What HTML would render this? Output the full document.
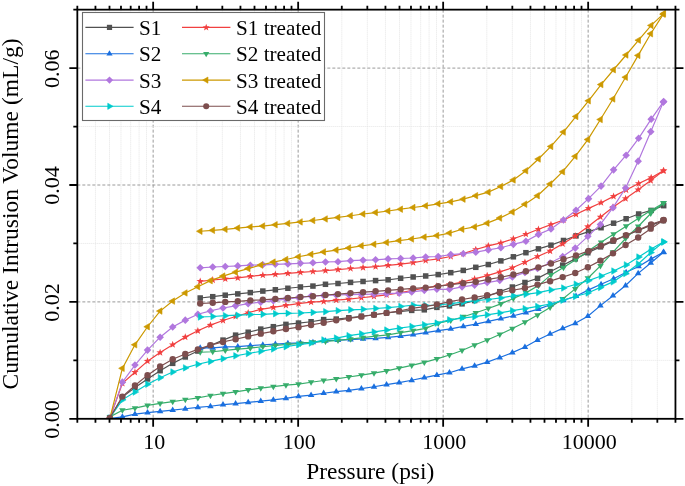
<!DOCTYPE html>
<html><head><meta charset="utf-8"><style>
html,body{margin:0;padding:0;background:#fff;}
body{width:685px;height:486px;position:relative;overflow:hidden;font-family:"Liberation Serif",serif;}
svg{will-change:transform;filter:blur(0.35px);}
</style></head><body>
<svg width="685" height="486" viewBox="0 0 685 486" style="position:absolute;left:0;top:0">
<line x1="95.45" y1="9.65" x2="95.45" y2="418.80" stroke="#e4e4e4" stroke-width="1" stroke-dasharray="1 1"/>
<line x1="109.50" y1="9.65" x2="109.50" y2="418.80" stroke="#e4e4e4" stroke-width="1" stroke-dasharray="1 1"/>
<line x1="120.98" y1="9.65" x2="120.98" y2="418.80" stroke="#e4e4e4" stroke-width="1" stroke-dasharray="1 1"/>
<line x1="130.69" y1="9.65" x2="130.69" y2="418.80" stroke="#e4e4e4" stroke-width="1" stroke-dasharray="1 1"/>
<line x1="139.10" y1="9.65" x2="139.10" y2="418.80" stroke="#e4e4e4" stroke-width="1" stroke-dasharray="1 1"/>
<line x1="146.52" y1="9.65" x2="146.52" y2="418.80" stroke="#e4e4e4" stroke-width="1" stroke-dasharray="1 1"/>
<line x1="153.15" y1="9.65" x2="153.15" y2="418.80" stroke="#9a9a9a" stroke-width="1" stroke-dasharray="3 2"/>
<line x1="196.80" y1="9.65" x2="196.80" y2="418.80" stroke="#e4e4e4" stroke-width="1" stroke-dasharray="1 1"/>
<line x1="222.33" y1="9.65" x2="222.33" y2="418.80" stroke="#e4e4e4" stroke-width="1" stroke-dasharray="1 1"/>
<line x1="240.45" y1="9.65" x2="240.45" y2="418.80" stroke="#e4e4e4" stroke-width="1" stroke-dasharray="1 1"/>
<line x1="254.50" y1="9.65" x2="254.50" y2="418.80" stroke="#e4e4e4" stroke-width="1" stroke-dasharray="1 1"/>
<line x1="265.98" y1="9.65" x2="265.98" y2="418.80" stroke="#e4e4e4" stroke-width="1" stroke-dasharray="1 1"/>
<line x1="275.69" y1="9.65" x2="275.69" y2="418.80" stroke="#e4e4e4" stroke-width="1" stroke-dasharray="1 1"/>
<line x1="284.10" y1="9.65" x2="284.10" y2="418.80" stroke="#e4e4e4" stroke-width="1" stroke-dasharray="1 1"/>
<line x1="291.52" y1="9.65" x2="291.52" y2="418.80" stroke="#e4e4e4" stroke-width="1" stroke-dasharray="1 1"/>
<line x1="298.15" y1="9.65" x2="298.15" y2="418.80" stroke="#9a9a9a" stroke-width="1" stroke-dasharray="3 2"/>
<line x1="341.80" y1="9.65" x2="341.80" y2="418.80" stroke="#e4e4e4" stroke-width="1" stroke-dasharray="1 1"/>
<line x1="367.33" y1="9.65" x2="367.33" y2="418.80" stroke="#e4e4e4" stroke-width="1" stroke-dasharray="1 1"/>
<line x1="385.45" y1="9.65" x2="385.45" y2="418.80" stroke="#e4e4e4" stroke-width="1" stroke-dasharray="1 1"/>
<line x1="399.50" y1="9.65" x2="399.50" y2="418.80" stroke="#e4e4e4" stroke-width="1" stroke-dasharray="1 1"/>
<line x1="410.98" y1="9.65" x2="410.98" y2="418.80" stroke="#e4e4e4" stroke-width="1" stroke-dasharray="1 1"/>
<line x1="420.69" y1="9.65" x2="420.69" y2="418.80" stroke="#e4e4e4" stroke-width="1" stroke-dasharray="1 1"/>
<line x1="429.10" y1="9.65" x2="429.10" y2="418.80" stroke="#e4e4e4" stroke-width="1" stroke-dasharray="1 1"/>
<line x1="436.52" y1="9.65" x2="436.52" y2="418.80" stroke="#e4e4e4" stroke-width="1" stroke-dasharray="1 1"/>
<line x1="443.15" y1="9.65" x2="443.15" y2="418.80" stroke="#9a9a9a" stroke-width="1" stroke-dasharray="3 2"/>
<line x1="486.80" y1="9.65" x2="486.80" y2="418.80" stroke="#e4e4e4" stroke-width="1" stroke-dasharray="1 1"/>
<line x1="512.33" y1="9.65" x2="512.33" y2="418.80" stroke="#e4e4e4" stroke-width="1" stroke-dasharray="1 1"/>
<line x1="530.45" y1="9.65" x2="530.45" y2="418.80" stroke="#e4e4e4" stroke-width="1" stroke-dasharray="1 1"/>
<line x1="544.50" y1="9.65" x2="544.50" y2="418.80" stroke="#e4e4e4" stroke-width="1" stroke-dasharray="1 1"/>
<line x1="555.98" y1="9.65" x2="555.98" y2="418.80" stroke="#e4e4e4" stroke-width="1" stroke-dasharray="1 1"/>
<line x1="565.69" y1="9.65" x2="565.69" y2="418.80" stroke="#e4e4e4" stroke-width="1" stroke-dasharray="1 1"/>
<line x1="574.10" y1="9.65" x2="574.10" y2="418.80" stroke="#e4e4e4" stroke-width="1" stroke-dasharray="1 1"/>
<line x1="581.52" y1="9.65" x2="581.52" y2="418.80" stroke="#e4e4e4" stroke-width="1" stroke-dasharray="1 1"/>
<line x1="588.15" y1="9.65" x2="588.15" y2="418.80" stroke="#9a9a9a" stroke-width="1" stroke-dasharray="3 2"/>
<line x1="631.80" y1="9.65" x2="631.80" y2="418.80" stroke="#e4e4e4" stroke-width="1" stroke-dasharray="1 1"/>
<line x1="657.33" y1="9.65" x2="657.33" y2="418.80" stroke="#e4e4e4" stroke-width="1" stroke-dasharray="1 1"/>
<line x1="77.33" y1="360.35" x2="675.45" y2="360.35" stroke="#e4e4e4" stroke-width="1" stroke-dasharray="1 1"/>
<line x1="77.33" y1="301.90" x2="675.45" y2="301.90" stroke="#9a9a9a" stroke-width="1" stroke-dasharray="3 2"/>
<line x1="77.33" y1="243.45" x2="675.45" y2="243.45" stroke="#e4e4e4" stroke-width="1" stroke-dasharray="1 1"/>
<line x1="77.33" y1="185.00" x2="675.45" y2="185.00" stroke="#9a9a9a" stroke-width="1" stroke-dasharray="3 2"/>
<line x1="77.33" y1="126.55" x2="675.45" y2="126.55" stroke="#e4e4e4" stroke-width="1" stroke-dasharray="1 1"/>
<line x1="77.33" y1="68.10" x2="675.45" y2="68.10" stroke="#9a9a9a" stroke-width="1" stroke-dasharray="3 2"/>
<defs><clipPath id="pc"><rect x="77.33" y="9.65" width="598.12" height="409.15"/></clipPath></defs><g clip-path="url(#pc)">
<path d="M109.80 418.02L122.38 397.11L134.96 387.44L147.54 378.97L160.12 370.70L172.70 363.34L185.28 356.96L197.86 351.04L210.44 345.47L223.02 340.11L235.60 335.14L248.18 332.23L260.76 329.09L273.34 326.69L285.92 324.37L298.50 323.08L311.08 321.73L323.66 319.58L336.24 319.08L348.82 317.76L361.40 316.24L373.98 314.74L386.56 313.02L399.14 311.63L411.72 310.39L424.30 309.82L436.88 307.37L449.46 305.92L462.04 303.83L474.62 300.58L487.20 296.36L499.78 291.68L512.36 287.05L524.94 282.49L537.52 278.33L550.10 271.66L562.68 265.16L575.26 258.86L587.84 252.76L600.42 246.86L613.00 241.17L625.58 235.70L638.16 230.45L650.74 225.42L663.32 220.62" fill="none" stroke="#515151" stroke-width="1.2"/>
<rect x="107.05" y="415.27" width="5.50" height="5.50" fill="#515151"/>
<rect x="119.63" y="394.36" width="5.50" height="5.50" fill="#515151"/>
<rect x="132.21" y="384.69" width="5.50" height="5.50" fill="#515151"/>
<rect x="144.79" y="376.22" width="5.50" height="5.50" fill="#515151"/>
<rect x="157.37" y="367.95" width="5.50" height="5.50" fill="#515151"/>
<rect x="169.95" y="360.59" width="5.50" height="5.50" fill="#515151"/>
<rect x="182.53" y="354.21" width="5.50" height="5.50" fill="#515151"/>
<rect x="195.11" y="348.29" width="5.50" height="5.50" fill="#515151"/>
<rect x="207.69" y="342.72" width="5.50" height="5.50" fill="#515151"/>
<rect x="220.27" y="337.36" width="5.50" height="5.50" fill="#515151"/>
<rect x="232.85" y="332.39" width="5.50" height="5.50" fill="#515151"/>
<rect x="245.43" y="329.48" width="5.50" height="5.50" fill="#515151"/>
<rect x="258.01" y="326.34" width="5.50" height="5.50" fill="#515151"/>
<rect x="270.59" y="323.94" width="5.50" height="5.50" fill="#515151"/>
<rect x="283.17" y="321.62" width="5.50" height="5.50" fill="#515151"/>
<rect x="295.75" y="320.33" width="5.50" height="5.50" fill="#515151"/>
<rect x="308.33" y="318.98" width="5.50" height="5.50" fill="#515151"/>
<rect x="320.91" y="316.83" width="5.50" height="5.50" fill="#515151"/>
<rect x="333.49" y="316.33" width="5.50" height="5.50" fill="#515151"/>
<rect x="346.07" y="315.01" width="5.50" height="5.50" fill="#515151"/>
<rect x="358.65" y="313.49" width="5.50" height="5.50" fill="#515151"/>
<rect x="371.23" y="311.99" width="5.50" height="5.50" fill="#515151"/>
<rect x="383.81" y="310.27" width="5.50" height="5.50" fill="#515151"/>
<rect x="396.39" y="308.88" width="5.50" height="5.50" fill="#515151"/>
<rect x="408.97" y="307.64" width="5.50" height="5.50" fill="#515151"/>
<rect x="421.55" y="307.07" width="5.50" height="5.50" fill="#515151"/>
<rect x="434.13" y="304.62" width="5.50" height="5.50" fill="#515151"/>
<rect x="446.71" y="303.17" width="5.50" height="5.50" fill="#515151"/>
<rect x="459.29" y="301.08" width="5.50" height="5.50" fill="#515151"/>
<rect x="471.87" y="297.83" width="5.50" height="5.50" fill="#515151"/>
<rect x="484.45" y="293.61" width="5.50" height="5.50" fill="#515151"/>
<rect x="497.03" y="288.93" width="5.50" height="5.50" fill="#515151"/>
<rect x="509.61" y="284.30" width="5.50" height="5.50" fill="#515151"/>
<rect x="522.19" y="279.74" width="5.50" height="5.50" fill="#515151"/>
<rect x="534.77" y="275.58" width="5.50" height="5.50" fill="#515151"/>
<rect x="547.35" y="268.91" width="5.50" height="5.50" fill="#515151"/>
<rect x="559.93" y="262.41" width="5.50" height="5.50" fill="#515151"/>
<rect x="572.51" y="256.11" width="5.50" height="5.50" fill="#515151"/>
<rect x="585.09" y="250.01" width="5.50" height="5.50" fill="#515151"/>
<rect x="597.67" y="244.11" width="5.50" height="5.50" fill="#515151"/>
<rect x="610.25" y="238.42" width="5.50" height="5.50" fill="#515151"/>
<rect x="622.83" y="232.95" width="5.50" height="5.50" fill="#515151"/>
<rect x="635.41" y="227.70" width="5.50" height="5.50" fill="#515151"/>
<rect x="647.99" y="222.67" width="5.50" height="5.50" fill="#515151"/>
<rect x="660.57" y="217.87" width="5.50" height="5.50" fill="#515151"/>
<path d="M200.20 298.00L212.73 296.69L225.25 295.19L237.78 293.88L250.31 292.59L262.83 291.07L275.36 289.78L287.89 288.27L300.42 286.98L312.94 286.07L325.47 284.29L338.00 283.50L350.52 282.39L363.05 281.48L375.58 280.59L388.11 279.79L400.63 278.27L413.16 276.99L425.69 275.98L438.21 274.57L450.74 272.66L463.27 270.40L475.79 267.31L488.32 264.54L500.85 260.89L513.38 256.81L525.90 252.70L538.43 248.85L550.96 245.18L563.48 240.48L576.01 235.86L588.54 231.62L601.06 227.71L613.59 223.20L626.12 218.75L638.64 213.99L651.17 210.41L663.70 205.67" fill="none" stroke="#515151" stroke-width="1.2"/>
<rect x="197.45" y="295.25" width="5.50" height="5.50" fill="#515151"/>
<rect x="209.98" y="293.94" width="5.50" height="5.50" fill="#515151"/>
<rect x="222.50" y="292.44" width="5.50" height="5.50" fill="#515151"/>
<rect x="235.03" y="291.13" width="5.50" height="5.50" fill="#515151"/>
<rect x="247.56" y="289.84" width="5.50" height="5.50" fill="#515151"/>
<rect x="260.08" y="288.32" width="5.50" height="5.50" fill="#515151"/>
<rect x="272.61" y="287.03" width="5.50" height="5.50" fill="#515151"/>
<rect x="285.14" y="285.52" width="5.50" height="5.50" fill="#515151"/>
<rect x="297.67" y="284.23" width="5.50" height="5.50" fill="#515151"/>
<rect x="310.19" y="283.32" width="5.50" height="5.50" fill="#515151"/>
<rect x="322.72" y="281.54" width="5.50" height="5.50" fill="#515151"/>
<rect x="335.25" y="280.75" width="5.50" height="5.50" fill="#515151"/>
<rect x="347.77" y="279.64" width="5.50" height="5.50" fill="#515151"/>
<rect x="360.30" y="278.73" width="5.50" height="5.50" fill="#515151"/>
<rect x="372.83" y="277.84" width="5.50" height="5.50" fill="#515151"/>
<rect x="385.36" y="277.04" width="5.50" height="5.50" fill="#515151"/>
<rect x="397.88" y="275.52" width="5.50" height="5.50" fill="#515151"/>
<rect x="410.41" y="274.24" width="5.50" height="5.50" fill="#515151"/>
<rect x="422.94" y="273.23" width="5.50" height="5.50" fill="#515151"/>
<rect x="435.46" y="271.82" width="5.50" height="5.50" fill="#515151"/>
<rect x="447.99" y="269.91" width="5.50" height="5.50" fill="#515151"/>
<rect x="460.52" y="267.65" width="5.50" height="5.50" fill="#515151"/>
<rect x="473.04" y="264.56" width="5.50" height="5.50" fill="#515151"/>
<rect x="485.57" y="261.79" width="5.50" height="5.50" fill="#515151"/>
<rect x="498.10" y="258.14" width="5.50" height="5.50" fill="#515151"/>
<rect x="510.62" y="254.06" width="5.50" height="5.50" fill="#515151"/>
<rect x="523.15" y="249.95" width="5.50" height="5.50" fill="#515151"/>
<rect x="535.68" y="246.10" width="5.50" height="5.50" fill="#515151"/>
<rect x="548.21" y="242.43" width="5.50" height="5.50" fill="#515151"/>
<rect x="560.73" y="237.73" width="5.50" height="5.50" fill="#515151"/>
<rect x="573.26" y="233.11" width="5.50" height="5.50" fill="#515151"/>
<rect x="585.79" y="228.87" width="5.50" height="5.50" fill="#515151"/>
<rect x="598.31" y="224.96" width="5.50" height="5.50" fill="#515151"/>
<rect x="610.84" y="220.45" width="5.50" height="5.50" fill="#515151"/>
<rect x="623.37" y="216.00" width="5.50" height="5.50" fill="#515151"/>
<rect x="635.89" y="211.24" width="5.50" height="5.50" fill="#515151"/>
<rect x="648.42" y="207.66" width="5.50" height="5.50" fill="#515151"/>
<rect x="660.95" y="202.92" width="5.50" height="5.50" fill="#515151"/>
<path d="M109.80 418.35L122.38 383.36L134.96 372.28L147.54 361.14L160.12 352.59L172.70 344.72L185.28 337.14L197.86 330.78L210.44 325.14L223.02 320.49L235.60 316.45L248.18 312.78L260.76 309.40L273.34 307.31L285.92 305.32L298.50 303.61L311.08 302.17L323.66 301.47L336.24 300.17L348.82 299.07L361.40 297.75L373.98 296.45L386.56 294.91L399.14 292.84L411.72 290.48L424.30 288.21L436.88 286.26L449.46 284.58L462.04 282.10L474.62 278.94L487.20 275.66L499.78 271.94L512.36 267.79L524.94 262.30L537.52 256.54L550.10 251.05L562.68 243.89L575.26 236.00L587.84 226.65L600.42 216.98L613.00 207.20L625.58 198.58L638.16 189.70L650.74 180.54L663.32 170.86" fill="none" stroke="#F14040" stroke-width="1.2"/>
<path d="M109.80 414.45L110.74 417.05L113.51 417.14L111.32 418.84L112.09 421.50L109.80 419.95L107.51 421.50L108.28 418.84L106.09 417.14L108.86 417.05Z" fill="#F14040"/>
<path d="M122.38 379.46L123.32 382.07L126.09 382.15L123.90 383.85L124.67 386.51L122.38 384.96L120.09 386.51L120.86 383.85L118.67 382.15L121.44 382.07Z" fill="#F14040"/>
<path d="M134.96 368.38L135.90 370.98L138.67 371.07L136.48 372.77L137.25 375.43L134.96 373.88L132.67 375.43L133.44 372.77L131.25 371.07L134.02 370.98Z" fill="#F14040"/>
<path d="M147.54 357.24L148.48 359.84L151.25 359.93L149.06 361.63L149.83 364.29L147.54 362.74L145.25 364.29L146.02 361.63L143.83 359.93L146.60 359.84Z" fill="#F14040"/>
<path d="M160.12 348.69L161.06 351.30L163.83 351.39L161.64 353.09L162.41 355.75L160.12 354.19L157.83 355.75L158.60 353.09L156.41 351.39L159.18 351.30Z" fill="#F14040"/>
<path d="M172.70 340.82L173.64 343.42L176.41 343.51L174.22 345.21L174.99 347.87L172.70 346.32L170.41 347.87L171.18 345.21L168.99 343.51L171.76 343.42Z" fill="#F14040"/>
<path d="M185.28 333.24L186.22 335.84L188.99 335.93L186.80 337.63L187.57 340.29L185.28 338.74L182.99 340.29L183.76 337.63L181.57 335.93L184.34 335.84Z" fill="#F14040"/>
<path d="M197.86 326.88L198.80 329.49L201.57 329.58L199.38 331.28L200.15 333.94L197.86 332.38L195.57 333.94L196.34 331.28L194.15 329.58L196.92 329.49Z" fill="#F14040"/>
<path d="M210.44 321.24L211.38 323.85L214.15 323.93L211.96 325.63L212.73 328.29L210.44 326.74L208.15 328.29L208.92 325.63L206.73 323.93L209.50 323.85Z" fill="#F14040"/>
<path d="M223.02 316.59L223.96 319.19L226.73 319.28L224.54 320.98L225.31 323.64L223.02 322.09L220.73 323.64L221.50 320.98L219.31 319.28L222.08 319.19Z" fill="#F14040"/>
<path d="M235.60 312.55L236.54 315.16L239.31 315.25L237.12 316.95L237.89 319.61L235.60 318.05L233.31 319.61L234.08 316.95L231.89 315.25L234.66 315.16Z" fill="#F14040"/>
<path d="M248.18 308.88L249.12 311.48L251.89 311.57L249.70 313.27L250.47 315.93L248.18 314.38L245.89 315.93L246.66 313.27L244.47 311.57L247.24 311.48Z" fill="#F14040"/>
<path d="M260.76 305.50L261.70 308.11L264.47 308.20L262.28 309.90L263.05 312.56L260.76 311.00L258.47 312.56L259.24 309.90L257.05 308.20L259.82 308.11Z" fill="#F14040"/>
<path d="M273.34 303.41L274.28 306.02L277.05 306.11L274.86 307.81L275.63 310.47L273.34 308.91L271.05 310.47L271.82 307.81L269.63 306.11L272.40 306.02Z" fill="#F14040"/>
<path d="M285.92 301.42L286.86 304.03L289.63 304.12L287.44 305.82L288.21 308.48L285.92 306.92L283.63 308.48L284.40 305.82L282.21 304.12L284.98 304.03Z" fill="#F14040"/>
<path d="M298.50 299.71L299.44 302.32L302.21 302.41L300.02 304.11L300.79 306.77L298.50 305.21L296.21 306.77L296.98 304.11L294.79 302.41L297.56 302.32Z" fill="#F14040"/>
<path d="M311.08 298.27L312.02 300.88L314.79 300.97L312.60 302.67L313.37 305.33L311.08 303.77L308.79 305.33L309.56 302.67L307.37 300.97L310.14 300.88Z" fill="#F14040"/>
<path d="M323.66 297.57L324.60 300.18L327.37 300.27L325.18 301.97L325.95 304.63L323.66 303.07L321.37 304.63L322.14 301.97L319.95 300.27L322.72 300.18Z" fill="#F14040"/>
<path d="M336.24 296.27L337.18 298.87L339.95 298.96L337.76 300.66L338.53 303.32L336.24 301.77L333.95 303.32L334.72 300.66L332.53 298.96L335.30 298.87Z" fill="#F14040"/>
<path d="M348.82 295.17L349.76 297.77L352.53 297.86L350.34 299.56L351.11 302.22L348.82 300.67L346.53 302.22L347.30 299.56L345.11 297.86L347.88 297.77Z" fill="#F14040"/>
<path d="M361.40 293.85L362.34 296.45L365.11 296.54L362.92 298.24L363.69 300.90L361.40 299.35L359.11 300.90L359.88 298.24L357.69 296.54L360.46 296.45Z" fill="#F14040"/>
<path d="M373.98 292.55L374.92 295.15L377.69 295.24L375.50 296.94L376.27 299.60L373.98 298.05L371.69 299.60L372.46 296.94L370.27 295.24L373.04 295.15Z" fill="#F14040"/>
<path d="M386.56 291.01L387.50 293.61L390.27 293.70L388.08 295.40L388.85 298.06L386.56 296.51L384.27 298.06L385.04 295.40L382.85 293.70L385.62 293.61Z" fill="#F14040"/>
<path d="M399.14 288.94L400.08 291.55L402.85 291.64L400.66 293.34L401.43 296.00L399.14 294.44L396.85 296.00L397.62 293.34L395.43 291.64L398.20 291.55Z" fill="#F14040"/>
<path d="M411.72 286.58L412.66 289.19L415.43 289.28L413.24 290.98L414.01 293.64L411.72 292.08L409.43 293.64L410.20 290.98L408.01 289.28L410.78 289.19Z" fill="#F14040"/>
<path d="M424.30 284.31L425.24 286.92L428.01 287.01L425.82 288.71L426.59 291.37L424.30 289.81L422.01 291.37L422.78 288.71L420.59 287.01L423.36 286.92Z" fill="#F14040"/>
<path d="M436.88 282.36L437.82 284.97L440.59 285.06L438.40 286.76L439.17 289.42L436.88 287.86L434.59 289.42L435.36 286.76L433.17 285.06L435.94 284.97Z" fill="#F14040"/>
<path d="M449.46 280.68L450.40 283.28L453.17 283.37L450.98 285.07L451.75 287.73L449.46 286.18L447.17 287.73L447.94 285.07L445.75 283.37L448.52 283.28Z" fill="#F14040"/>
<path d="M462.04 278.20L462.98 280.81L465.75 280.90L463.56 282.60L464.33 285.26L462.04 283.70L459.75 285.26L460.52 282.60L458.33 280.90L461.10 280.81Z" fill="#F14040"/>
<path d="M474.62 275.04L475.56 277.65L478.33 277.74L476.14 279.44L476.91 282.10L474.62 280.54L472.33 282.10L473.10 279.44L470.91 277.74L473.68 277.65Z" fill="#F14040"/>
<path d="M487.20 271.76L488.14 274.37L490.91 274.46L488.72 276.16L489.49 278.82L487.20 277.26L484.91 278.82L485.68 276.16L483.49 274.46L486.26 274.37Z" fill="#F14040"/>
<path d="M499.78 268.04L500.72 270.65L503.49 270.74L501.30 272.44L502.07 275.10L499.78 273.54L497.49 275.10L498.26 272.44L496.07 270.74L498.84 270.65Z" fill="#F14040"/>
<path d="M512.36 263.89L513.30 266.50L516.07 266.59L513.88 268.28L514.65 270.95L512.36 269.39L510.07 270.95L510.84 268.28L508.65 266.59L511.42 266.50Z" fill="#F14040"/>
<path d="M524.94 258.40L525.88 261.00L528.65 261.09L526.46 262.79L527.23 265.45L524.94 263.90L522.65 265.45L523.42 262.79L521.23 261.09L524.00 261.00Z" fill="#F14040"/>
<path d="M537.52 252.64L538.46 255.24L541.23 255.33L539.04 257.03L539.81 259.69L537.52 258.14L535.23 259.69L536.00 257.03L533.81 255.33L536.58 255.24Z" fill="#F14040"/>
<path d="M550.10 247.15L551.04 249.76L553.81 249.85L551.62 251.55L552.39 254.21L550.10 252.65L547.81 254.21L548.58 251.55L546.39 249.85L549.16 249.76Z" fill="#F14040"/>
<path d="M562.68 239.99L563.62 242.60L566.39 242.69L564.20 244.39L564.97 247.05L562.68 245.49L560.39 247.05L561.16 244.39L558.97 242.69L561.74 242.60Z" fill="#F14040"/>
<path d="M575.26 232.10L576.20 234.70L578.97 234.79L576.78 236.49L577.55 239.15L575.26 237.60L572.97 239.15L573.74 236.49L571.55 234.79L574.32 234.70Z" fill="#F14040"/>
<path d="M587.84 222.75L588.78 225.35L591.55 225.44L589.36 227.14L590.13 229.80L587.84 228.25L585.55 229.80L586.32 227.14L584.13 225.44L586.90 225.35Z" fill="#F14040"/>
<path d="M600.42 213.08L601.36 215.69L604.13 215.78L601.94 217.48L602.71 220.14L600.42 218.58L598.13 220.14L598.90 217.48L596.71 215.78L599.48 215.69Z" fill="#F14040"/>
<path d="M613.00 203.30L613.94 205.91L616.71 205.99L614.52 207.69L615.29 210.36L613.00 208.80L610.71 210.36L611.48 207.69L609.29 205.99L612.06 205.91Z" fill="#F14040"/>
<path d="M625.58 194.68L626.52 197.29L629.29 197.38L627.10 199.08L627.87 201.74L625.58 200.18L623.29 201.74L624.06 199.08L621.87 197.38L624.64 197.29Z" fill="#F14040"/>
<path d="M638.16 185.80L639.10 188.41L641.87 188.50L639.68 190.19L640.45 192.86L638.16 191.30L635.87 192.86L636.64 190.19L634.45 188.50L637.22 188.41Z" fill="#F14040"/>
<path d="M650.74 176.64L651.68 179.25L654.45 179.34L652.26 181.04L653.03 183.70L650.74 182.14L648.45 183.70L649.22 181.04L647.03 179.34L649.80 179.25Z" fill="#F14040"/>
<path d="M663.32 166.96L664.26 169.57L667.03 169.66L664.84 171.36L665.61 174.02L663.32 172.46L661.03 174.02L661.80 171.36L659.61 169.66L662.38 169.57Z" fill="#F14040"/>
<path d="M200.20 281.30L212.73 279.99L225.25 278.90L237.78 277.78L250.31 276.29L262.83 275.18L275.36 274.29L287.89 273.28L300.42 272.38L312.94 271.48L325.47 270.56L338.00 269.55L350.52 268.49L363.05 267.58L375.58 266.68L388.11 265.39L400.63 264.07L413.16 262.58L425.69 260.52L438.21 258.87L450.74 256.47L463.27 253.63L475.79 249.54L488.32 245.84L500.85 242.93L513.38 238.80L525.90 234.19L538.43 229.28L550.96 224.60L563.48 220.00L576.01 214.32L588.54 208.39L601.06 202.68L613.59 196.40L626.12 189.98L638.64 183.53L651.17 177.66L663.70 170.62" fill="none" stroke="#F14040" stroke-width="1.2"/>
<path d="M200.20 277.40L201.14 280.01L203.91 280.09L201.72 281.79L202.49 284.46L200.20 282.90L197.91 284.46L198.68 281.79L196.49 280.09L199.26 280.01Z" fill="#F14040"/>
<path d="M212.73 276.09L213.67 278.69L216.44 278.78L214.25 280.48L215.02 283.14L212.73 281.59L210.43 283.14L211.21 280.48L209.02 278.78L211.79 278.69Z" fill="#F14040"/>
<path d="M225.25 275.00L226.19 277.60L228.96 277.69L226.78 279.39L227.55 282.05L225.25 280.50L222.96 282.05L223.73 279.39L221.54 277.69L224.31 277.60Z" fill="#F14040"/>
<path d="M237.78 273.88L238.72 276.49L241.49 276.58L239.30 278.28L240.07 280.94L237.78 279.38L235.49 280.94L236.26 278.28L234.07 276.58L236.84 276.49Z" fill="#F14040"/>
<path d="M250.31 272.39L251.25 274.99L254.02 275.08L251.83 276.78L252.60 279.44L250.31 277.89L248.02 279.44L248.79 276.78L246.60 275.08L249.37 274.99Z" fill="#F14040"/>
<path d="M262.83 271.28L263.78 273.89L266.54 273.98L264.36 275.68L265.13 278.34L262.83 276.78L260.54 278.34L261.31 275.68L259.13 273.98L261.89 273.89Z" fill="#F14040"/>
<path d="M275.36 270.39L276.30 272.99L279.07 273.08L276.88 274.78L277.65 277.44L275.36 275.89L273.07 277.44L273.84 274.78L271.65 273.08L274.42 272.99Z" fill="#F14040"/>
<path d="M287.89 269.38L288.83 271.98L291.60 272.07L289.41 273.77L290.18 276.43L287.89 274.88L285.60 276.43L286.37 273.77L284.18 272.07L286.95 271.98Z" fill="#F14040"/>
<path d="M300.42 268.48L301.36 271.09L304.13 271.18L301.94 272.88L302.71 275.54L300.42 273.98L298.12 275.54L298.89 272.88L296.71 271.18L299.48 271.09Z" fill="#F14040"/>
<path d="M312.94 267.58L313.88 270.18L316.65 270.27L314.46 271.97L315.24 274.63L312.94 273.08L310.65 274.63L311.42 271.97L309.23 270.27L312.00 270.18Z" fill="#F14040"/>
<path d="M325.47 266.66L326.41 269.27L329.18 269.36L326.99 271.06L327.76 273.72L325.47 272.16L323.18 273.72L323.95 271.06L321.76 269.36L324.53 269.27Z" fill="#F14040"/>
<path d="M338.00 265.65L338.94 268.26L341.71 268.35L339.52 270.04L340.29 272.71L338.00 271.15L335.70 272.71L336.48 270.04L334.29 268.35L337.06 268.26Z" fill="#F14040"/>
<path d="M350.52 264.59L351.46 267.20L354.23 267.29L352.05 268.98L352.82 271.65L350.52 270.09L348.23 271.65L349.00 268.98L346.81 267.29L349.58 267.20Z" fill="#F14040"/>
<path d="M363.05 263.68L363.99 266.29L366.76 266.38L364.57 268.08L365.34 270.74L363.05 269.18L360.76 270.74L361.53 268.08L359.34 266.38L362.11 266.29Z" fill="#F14040"/>
<path d="M375.58 262.78L376.52 265.39L379.29 265.48L377.10 267.18L377.87 269.84L375.58 268.28L373.29 269.84L374.06 267.18L371.87 265.48L374.64 265.39Z" fill="#F14040"/>
<path d="M388.11 261.49L389.05 264.09L391.81 264.18L389.63 265.88L390.40 268.54L388.11 266.99L385.81 268.54L386.58 265.88L384.40 264.18L387.16 264.09Z" fill="#F14040"/>
<path d="M400.63 260.17L401.57 262.78L404.34 262.87L402.15 264.57L402.92 267.23L400.63 265.67L398.34 267.23L399.11 264.57L396.92 262.87L399.69 262.78Z" fill="#F14040"/>
<path d="M413.16 258.68L414.10 261.28L416.87 261.37L414.68 263.07L415.45 265.73L413.16 264.18L410.87 265.73L411.64 263.07L409.45 261.37L412.22 261.28Z" fill="#F14040"/>
<path d="M425.69 256.62L426.63 259.22L429.40 259.31L427.21 261.01L427.98 263.67L425.69 262.12L423.39 263.67L424.16 261.01L421.98 259.31L424.75 259.22Z" fill="#F14040"/>
<path d="M438.21 254.97L439.15 257.57L441.92 257.66L439.73 259.36L440.51 262.02L438.21 260.47L435.92 262.02L436.69 259.36L434.50 257.66L437.27 257.57Z" fill="#F14040"/>
<path d="M450.74 252.57L451.68 255.18L454.45 255.27L452.26 256.97L453.03 259.63L450.74 258.07L448.45 259.63L449.22 256.97L447.03 255.27L449.80 255.18Z" fill="#F14040"/>
<path d="M463.27 249.73L464.21 252.33L466.98 252.42L464.79 254.12L465.56 256.78L463.27 255.23L460.97 256.78L461.75 254.12L459.56 252.42L462.33 252.33Z" fill="#F14040"/>
<path d="M475.79 245.64L476.73 248.25L479.50 248.33L477.32 250.03L478.09 252.70L475.79 251.14L473.50 252.70L474.27 250.03L472.08 248.33L474.85 248.25Z" fill="#F14040"/>
<path d="M488.32 241.94L489.26 244.55L492.03 244.64L489.84 246.34L490.61 249.00L488.32 247.44L486.03 249.00L486.80 246.34L484.61 244.64L487.38 244.55Z" fill="#F14040"/>
<path d="M500.85 239.03L501.79 241.64L504.56 241.73L502.37 243.43L503.14 246.09L500.85 244.53L498.56 246.09L499.33 243.43L497.14 241.73L499.91 241.64Z" fill="#F14040"/>
<path d="M513.38 234.90L514.32 237.51L517.08 237.60L514.90 239.30L515.67 241.96L513.38 240.40L511.08 241.96L511.85 239.30L509.67 237.60L512.43 237.51Z" fill="#F14040"/>
<path d="M525.90 230.29L526.84 232.89L529.61 232.98L527.42 234.68L528.19 237.34L525.90 235.79L523.61 237.34L524.38 234.68L522.19 232.98L524.96 232.89Z" fill="#F14040"/>
<path d="M538.43 225.38L539.37 227.99L542.14 228.08L539.95 229.78L540.72 232.44L538.43 230.88L536.14 232.44L536.91 229.78L534.72 228.08L537.49 227.99Z" fill="#F14040"/>
<path d="M550.96 220.70L551.90 223.30L554.67 223.39L552.48 225.09L553.25 227.75L550.96 226.20L548.66 227.75L549.43 225.09L547.25 223.39L550.02 223.30Z" fill="#F14040"/>
<path d="M563.48 216.10L564.42 218.71L567.19 218.80L565.00 220.50L565.78 223.16L563.48 221.60L561.19 223.16L561.96 220.50L559.77 218.80L562.54 218.71Z" fill="#F14040"/>
<path d="M576.01 210.42L576.95 213.02L579.72 213.11L577.53 214.81L578.30 217.47L576.01 215.92L573.72 217.47L574.49 214.81L572.30 213.11L575.07 213.02Z" fill="#F14040"/>
<path d="M588.54 204.49L589.48 207.10L592.25 207.19L590.06 208.88L590.83 211.55L588.54 209.99L586.24 211.55L587.02 208.88L584.83 207.19L587.60 207.10Z" fill="#F14040"/>
<path d="M601.06 198.78L602.00 201.39L604.77 201.48L602.59 203.18L603.36 205.84L601.06 204.28L598.77 205.84L599.54 203.18L597.35 201.48L600.12 201.39Z" fill="#F14040"/>
<path d="M613.59 192.50L614.53 195.11L617.30 195.20L615.11 196.90L615.88 199.56L613.59 198.00L611.30 199.56L612.07 196.90L609.88 195.20L612.65 195.11Z" fill="#F14040"/>
<path d="M626.12 186.08L627.06 188.69L629.83 188.78L627.64 190.48L628.41 193.14L626.12 191.58L623.83 193.14L624.60 190.48L622.41 188.78L625.18 188.69Z" fill="#F14040"/>
<path d="M638.64 179.63L639.59 182.24L642.35 182.33L640.17 184.03L640.94 186.69L638.64 185.13L636.35 186.69L637.12 184.03L634.94 182.33L637.70 182.24Z" fill="#F14040"/>
<path d="M651.17 173.76L652.11 176.36L654.88 176.45L652.69 178.15L653.46 180.81L651.17 179.26L648.88 180.81L649.65 178.15L647.46 176.45L650.23 176.36Z" fill="#F14040"/>
<path d="M663.70 166.72L664.64 169.32L667.41 169.41L665.22 171.11L665.99 173.77L663.70 172.22L661.41 173.77L662.18 171.11L659.99 169.41L662.76 169.32Z" fill="#F14040"/>
<path d="M109.80 418.47L122.38 416.82L134.96 414.10L147.54 412.71L160.12 411.32L172.70 410.14L185.28 408.73L197.86 407.43L210.44 406.23L223.02 404.63L235.60 403.63L248.18 402.42L260.76 401.11L273.34 399.85L285.92 398.33L298.50 396.44L311.08 395.13L323.66 393.22L336.24 391.72L348.82 390.32L361.40 388.55L373.98 386.75L386.56 384.54L399.14 382.58L411.72 380.23L424.30 377.65L436.88 375.11L449.46 372.71L462.04 368.91L474.62 365.84L487.20 362.15L499.78 357.48L512.36 352.65L524.94 346.98L537.52 339.99L550.10 333.93L562.68 328.39L575.26 323.32L587.84 316.16L600.42 305.63L613.00 295.69L625.58 285.53L638.16 273.37L650.74 262.92L663.32 252.39" fill="none" stroke="#1A6FDF" stroke-width="1.2"/>
<path d="M109.80 414.87L113.05 420.37L106.55 420.37Z" fill="#1A6FDF"/>
<path d="M122.38 413.22L125.63 418.72L119.13 418.72Z" fill="#1A6FDF"/>
<path d="M134.96 410.50L138.21 416.00L131.71 416.00Z" fill="#1A6FDF"/>
<path d="M147.54 409.11L150.79 414.61L144.29 414.61Z" fill="#1A6FDF"/>
<path d="M160.12 407.72L163.37 413.22L156.87 413.22Z" fill="#1A6FDF"/>
<path d="M172.70 406.54L175.95 412.04L169.45 412.04Z" fill="#1A6FDF"/>
<path d="M185.28 405.13L188.53 410.63L182.03 410.63Z" fill="#1A6FDF"/>
<path d="M197.86 403.83L201.11 409.33L194.61 409.33Z" fill="#1A6FDF"/>
<path d="M210.44 402.63L213.69 408.13L207.19 408.13Z" fill="#1A6FDF"/>
<path d="M223.02 401.03L226.27 406.53L219.77 406.53Z" fill="#1A6FDF"/>
<path d="M235.60 400.03L238.85 405.53L232.35 405.53Z" fill="#1A6FDF"/>
<path d="M248.18 398.82L251.43 404.32L244.93 404.32Z" fill="#1A6FDF"/>
<path d="M260.76 397.51L264.01 403.01L257.51 403.01Z" fill="#1A6FDF"/>
<path d="M273.34 396.25L276.59 401.75L270.09 401.75Z" fill="#1A6FDF"/>
<path d="M285.92 394.73L289.17 400.23L282.67 400.23Z" fill="#1A6FDF"/>
<path d="M298.50 392.84L301.75 398.34L295.25 398.34Z" fill="#1A6FDF"/>
<path d="M311.08 391.53L314.33 397.03L307.83 397.03Z" fill="#1A6FDF"/>
<path d="M323.66 389.62L326.91 395.12L320.41 395.12Z" fill="#1A6FDF"/>
<path d="M336.24 388.12L339.49 393.62L332.99 393.62Z" fill="#1A6FDF"/>
<path d="M348.82 386.72L352.07 392.22L345.57 392.22Z" fill="#1A6FDF"/>
<path d="M361.40 384.95L364.65 390.45L358.15 390.45Z" fill="#1A6FDF"/>
<path d="M373.98 383.15L377.23 388.65L370.73 388.65Z" fill="#1A6FDF"/>
<path d="M386.56 380.94L389.81 386.44L383.31 386.44Z" fill="#1A6FDF"/>
<path d="M399.14 378.98L402.39 384.48L395.89 384.48Z" fill="#1A6FDF"/>
<path d="M411.72 376.63L414.97 382.13L408.47 382.13Z" fill="#1A6FDF"/>
<path d="M424.30 374.05L427.55 379.55L421.05 379.55Z" fill="#1A6FDF"/>
<path d="M436.88 371.51L440.13 377.01L433.63 377.01Z" fill="#1A6FDF"/>
<path d="M449.46 369.11L452.71 374.61L446.21 374.61Z" fill="#1A6FDF"/>
<path d="M462.04 365.31L465.29 370.81L458.79 370.81Z" fill="#1A6FDF"/>
<path d="M474.62 362.24L477.87 367.74L471.37 367.74Z" fill="#1A6FDF"/>
<path d="M487.20 358.55L490.45 364.05L483.95 364.05Z" fill="#1A6FDF"/>
<path d="M499.78 353.88L503.03 359.38L496.53 359.38Z" fill="#1A6FDF"/>
<path d="M512.36 349.05L515.61 354.55L509.11 354.55Z" fill="#1A6FDF"/>
<path d="M524.94 343.38L528.19 348.88L521.69 348.88Z" fill="#1A6FDF"/>
<path d="M537.52 336.39L540.77 341.89L534.27 341.89Z" fill="#1A6FDF"/>
<path d="M550.10 330.33L553.35 335.83L546.85 335.83Z" fill="#1A6FDF"/>
<path d="M562.68 324.79L565.93 330.29L559.43 330.29Z" fill="#1A6FDF"/>
<path d="M575.26 319.72L578.51 325.22L572.01 325.22Z" fill="#1A6FDF"/>
<path d="M587.84 312.56L591.09 318.06L584.59 318.06Z" fill="#1A6FDF"/>
<path d="M600.42 302.03L603.67 307.53L597.17 307.53Z" fill="#1A6FDF"/>
<path d="M613.00 292.09L616.25 297.59L609.75 297.59Z" fill="#1A6FDF"/>
<path d="M625.58 281.93L628.83 287.43L622.33 287.43Z" fill="#1A6FDF"/>
<path d="M638.16 269.77L641.41 275.27L634.91 275.27Z" fill="#1A6FDF"/>
<path d="M650.74 259.32L653.99 264.82L647.49 264.82Z" fill="#1A6FDF"/>
<path d="M663.32 248.79L666.57 254.29L660.07 254.29Z" fill="#1A6FDF"/>
<path d="M200.20 347.85L212.73 347.85L225.25 346.95L237.78 346.54L250.31 345.64L262.83 344.74L275.36 344.14L287.89 343.44L300.42 342.84L312.94 342.33L325.47 340.75L338.00 340.19L350.52 339.69L363.05 338.90L375.58 338.39L388.11 337.44L400.63 336.11L413.16 334.62L425.69 332.71L438.21 330.62L450.74 328.83L463.27 326.40L475.79 324.11L488.32 321.40L500.85 318.59L513.38 315.79L525.90 312.67L538.43 309.08L550.96 304.56L563.48 300.29L576.01 296.20L588.54 289.84L601.06 284.28L613.59 278.71L626.12 272.24L638.64 266.42L651.17 258.88L663.70 252.10" fill="none" stroke="#1A6FDF" stroke-width="1.2"/>
<path d="M200.20 344.25L203.45 349.75L196.95 349.75Z" fill="#1A6FDF"/>
<path d="M212.73 344.25L215.98 349.75L209.48 349.75Z" fill="#1A6FDF"/>
<path d="M225.25 343.35L228.50 348.85L222.00 348.85Z" fill="#1A6FDF"/>
<path d="M237.78 342.94L241.03 348.44L234.53 348.44Z" fill="#1A6FDF"/>
<path d="M250.31 342.04L253.56 347.54L247.06 347.54Z" fill="#1A6FDF"/>
<path d="M262.83 341.14L266.08 346.64L259.58 346.64Z" fill="#1A6FDF"/>
<path d="M275.36 340.54L278.61 346.04L272.11 346.04Z" fill="#1A6FDF"/>
<path d="M287.89 339.84L291.14 345.34L284.64 345.34Z" fill="#1A6FDF"/>
<path d="M300.42 339.24L303.67 344.74L297.17 344.74Z" fill="#1A6FDF"/>
<path d="M312.94 338.73L316.19 344.23L309.69 344.23Z" fill="#1A6FDF"/>
<path d="M325.47 337.15L328.72 342.65L322.22 342.65Z" fill="#1A6FDF"/>
<path d="M338.00 336.59L341.25 342.09L334.75 342.09Z" fill="#1A6FDF"/>
<path d="M350.52 336.09L353.77 341.59L347.27 341.59Z" fill="#1A6FDF"/>
<path d="M363.05 335.30L366.30 340.80L359.80 340.80Z" fill="#1A6FDF"/>
<path d="M375.58 334.79L378.83 340.29L372.33 340.29Z" fill="#1A6FDF"/>
<path d="M388.11 333.84L391.36 339.34L384.86 339.34Z" fill="#1A6FDF"/>
<path d="M400.63 332.51L403.88 338.01L397.38 338.01Z" fill="#1A6FDF"/>
<path d="M413.16 331.02L416.41 336.52L409.91 336.52Z" fill="#1A6FDF"/>
<path d="M425.69 329.11L428.94 334.61L422.44 334.61Z" fill="#1A6FDF"/>
<path d="M438.21 327.02L441.46 332.52L434.96 332.52Z" fill="#1A6FDF"/>
<path d="M450.74 325.23L453.99 330.73L447.49 330.73Z" fill="#1A6FDF"/>
<path d="M463.27 322.80L466.52 328.30L460.02 328.30Z" fill="#1A6FDF"/>
<path d="M475.79 320.51L479.04 326.01L472.54 326.01Z" fill="#1A6FDF"/>
<path d="M488.32 317.80L491.57 323.30L485.07 323.30Z" fill="#1A6FDF"/>
<path d="M500.85 314.99L504.10 320.49L497.60 320.49Z" fill="#1A6FDF"/>
<path d="M513.38 312.19L516.62 317.69L510.12 317.69Z" fill="#1A6FDF"/>
<path d="M525.90 309.07L529.15 314.57L522.65 314.57Z" fill="#1A6FDF"/>
<path d="M538.43 305.48L541.68 310.98L535.18 310.98Z" fill="#1A6FDF"/>
<path d="M550.96 300.96L554.21 306.46L547.71 306.46Z" fill="#1A6FDF"/>
<path d="M563.48 296.69L566.73 302.19L560.23 302.19Z" fill="#1A6FDF"/>
<path d="M576.01 292.60L579.26 298.10L572.76 298.10Z" fill="#1A6FDF"/>
<path d="M588.54 286.24L591.79 291.74L585.29 291.74Z" fill="#1A6FDF"/>
<path d="M601.06 280.68L604.31 286.18L597.81 286.18Z" fill="#1A6FDF"/>
<path d="M613.59 275.11L616.84 280.61L610.34 280.61Z" fill="#1A6FDF"/>
<path d="M626.12 268.64L629.37 274.14L622.87 274.14Z" fill="#1A6FDF"/>
<path d="M638.64 262.82L641.89 268.32L635.39 268.32Z" fill="#1A6FDF"/>
<path d="M651.17 255.28L654.42 260.78L647.92 260.78Z" fill="#1A6FDF"/>
<path d="M663.70 248.50L666.95 254.00L660.45 254.00Z" fill="#1A6FDF"/>
<path d="M109.80 416.89L122.38 410.21L134.96 408.18L147.54 405.39L160.12 403.30L172.70 401.54L185.28 399.72L197.86 397.82L210.44 395.53L223.02 393.62L235.60 391.92L248.18 389.91L260.76 388.20L273.34 386.65L285.92 385.14L298.50 384.04L311.08 382.22L323.66 380.52L336.24 378.92L348.82 377.02L361.40 375.15L373.98 373.05L386.56 370.84L399.14 368.19L411.72 365.32L424.30 362.35L436.88 358.90L449.46 355.00L462.04 350.50L474.62 345.04L487.20 340.05L499.78 334.47L512.36 328.57L524.94 322.18L537.52 315.10L550.10 307.44L562.68 298.98L575.26 288.87L587.84 278.20L600.42 265.84L613.00 252.11L625.58 238.47L638.16 226.49L650.74 213.51L663.32 203.25" fill="none" stroke="#37AD6B" stroke-width="1.2"/>
<path d="M109.80 420.49L113.05 414.99L106.55 414.99Z" fill="#37AD6B"/>
<path d="M122.38 413.81L125.63 408.31L119.13 408.31Z" fill="#37AD6B"/>
<path d="M134.96 411.78L138.21 406.28L131.71 406.28Z" fill="#37AD6B"/>
<path d="M147.54 408.99L150.79 403.49L144.29 403.49Z" fill="#37AD6B"/>
<path d="M160.12 406.90L163.37 401.40L156.87 401.40Z" fill="#37AD6B"/>
<path d="M172.70 405.14L175.95 399.64L169.45 399.64Z" fill="#37AD6B"/>
<path d="M185.28 403.32L188.53 397.82L182.03 397.82Z" fill="#37AD6B"/>
<path d="M197.86 401.42L201.11 395.92L194.61 395.92Z" fill="#37AD6B"/>
<path d="M210.44 399.13L213.69 393.63L207.19 393.63Z" fill="#37AD6B"/>
<path d="M223.02 397.22L226.27 391.72L219.77 391.72Z" fill="#37AD6B"/>
<path d="M235.60 395.52L238.85 390.02L232.35 390.02Z" fill="#37AD6B"/>
<path d="M248.18 393.51L251.43 388.01L244.93 388.01Z" fill="#37AD6B"/>
<path d="M260.76 391.80L264.01 386.30L257.51 386.30Z" fill="#37AD6B"/>
<path d="M273.34 390.25L276.59 384.75L270.09 384.75Z" fill="#37AD6B"/>
<path d="M285.92 388.74L289.17 383.24L282.67 383.24Z" fill="#37AD6B"/>
<path d="M298.50 387.64L301.75 382.14L295.25 382.14Z" fill="#37AD6B"/>
<path d="M311.08 385.82L314.33 380.32L307.83 380.32Z" fill="#37AD6B"/>
<path d="M323.66 384.12L326.91 378.62L320.41 378.62Z" fill="#37AD6B"/>
<path d="M336.24 382.52L339.49 377.02L332.99 377.02Z" fill="#37AD6B"/>
<path d="M348.82 380.62L352.07 375.12L345.57 375.12Z" fill="#37AD6B"/>
<path d="M361.40 378.75L364.65 373.25L358.15 373.25Z" fill="#37AD6B"/>
<path d="M373.98 376.65L377.23 371.15L370.73 371.15Z" fill="#37AD6B"/>
<path d="M386.56 374.44L389.81 368.94L383.31 368.94Z" fill="#37AD6B"/>
<path d="M399.14 371.79L402.39 366.29L395.89 366.29Z" fill="#37AD6B"/>
<path d="M411.72 368.92L414.97 363.42L408.47 363.42Z" fill="#37AD6B"/>
<path d="M424.30 365.95L427.55 360.45L421.05 360.45Z" fill="#37AD6B"/>
<path d="M436.88 362.50L440.13 357.00L433.63 357.00Z" fill="#37AD6B"/>
<path d="M449.46 358.60L452.71 353.10L446.21 353.10Z" fill="#37AD6B"/>
<path d="M462.04 354.10L465.29 348.60L458.79 348.60Z" fill="#37AD6B"/>
<path d="M474.62 348.64L477.87 343.14L471.37 343.14Z" fill="#37AD6B"/>
<path d="M487.20 343.65L490.45 338.15L483.95 338.15Z" fill="#37AD6B"/>
<path d="M499.78 338.07L503.03 332.57L496.53 332.57Z" fill="#37AD6B"/>
<path d="M512.36 332.17L515.61 326.67L509.11 326.67Z" fill="#37AD6B"/>
<path d="M524.94 325.78L528.19 320.28L521.69 320.28Z" fill="#37AD6B"/>
<path d="M537.52 318.70L540.77 313.20L534.27 313.20Z" fill="#37AD6B"/>
<path d="M550.10 311.04L553.35 305.54L546.85 305.54Z" fill="#37AD6B"/>
<path d="M562.68 302.58L565.93 297.08L559.43 297.08Z" fill="#37AD6B"/>
<path d="M575.26 292.47L578.51 286.97L572.01 286.97Z" fill="#37AD6B"/>
<path d="M587.84 281.80L591.09 276.30L584.59 276.30Z" fill="#37AD6B"/>
<path d="M600.42 269.44L603.67 263.94L597.17 263.94Z" fill="#37AD6B"/>
<path d="M613.00 255.71L616.25 250.21L609.75 250.21Z" fill="#37AD6B"/>
<path d="M625.58 242.07L628.83 236.57L622.33 236.57Z" fill="#37AD6B"/>
<path d="M638.16 230.09L641.41 224.59L634.91 224.59Z" fill="#37AD6B"/>
<path d="M650.74 217.11L653.99 211.61L647.49 211.61Z" fill="#37AD6B"/>
<path d="M663.32 206.85L666.57 201.35L660.07 201.35Z" fill="#37AD6B"/>
<path d="M200.20 352.25L212.73 351.74L225.25 350.44L237.78 349.13L250.31 348.04L262.83 346.73L275.36 345.43L287.89 344.33L300.42 343.43L312.94 342.12L325.47 341.35L338.00 340.43L350.52 339.14L363.05 337.62L375.58 336.13L388.11 334.81L400.63 332.61L413.16 330.59L425.69 328.32L438.21 323.28L450.74 320.51L463.27 316.75L475.79 312.79L488.32 308.47L500.85 303.85L513.38 298.50L525.90 292.85L538.43 285.61L550.96 274.87L563.48 267.55L576.01 259.44L588.54 250.78L601.06 242.31L613.59 234.22L626.12 226.24L638.64 218.29L651.17 210.26L663.70 203.00" fill="none" stroke="#37AD6B" stroke-width="1.2"/>
<path d="M200.20 355.85L203.45 350.35L196.95 350.35Z" fill="#37AD6B"/>
<path d="M212.73 355.34L215.98 349.84L209.48 349.84Z" fill="#37AD6B"/>
<path d="M225.25 354.04L228.50 348.54L222.00 348.54Z" fill="#37AD6B"/>
<path d="M237.78 352.73L241.03 347.23L234.53 347.23Z" fill="#37AD6B"/>
<path d="M250.31 351.64L253.56 346.14L247.06 346.14Z" fill="#37AD6B"/>
<path d="M262.83 350.33L266.08 344.83L259.58 344.83Z" fill="#37AD6B"/>
<path d="M275.36 349.03L278.61 343.53L272.11 343.53Z" fill="#37AD6B"/>
<path d="M287.89 347.93L291.14 342.43L284.64 342.43Z" fill="#37AD6B"/>
<path d="M300.42 347.03L303.67 341.53L297.17 341.53Z" fill="#37AD6B"/>
<path d="M312.94 345.72L316.19 340.22L309.69 340.22Z" fill="#37AD6B"/>
<path d="M325.47 344.95L328.72 339.45L322.22 339.45Z" fill="#37AD6B"/>
<path d="M338.00 344.03L341.25 338.53L334.75 338.53Z" fill="#37AD6B"/>
<path d="M350.52 342.74L353.77 337.24L347.27 337.24Z" fill="#37AD6B"/>
<path d="M363.05 341.22L366.30 335.72L359.80 335.72Z" fill="#37AD6B"/>
<path d="M375.58 339.73L378.83 334.23L372.33 334.23Z" fill="#37AD6B"/>
<path d="M388.11 338.41L391.36 332.91L384.86 332.91Z" fill="#37AD6B"/>
<path d="M400.63 336.21L403.88 330.71L397.38 330.71Z" fill="#37AD6B"/>
<path d="M413.16 334.19L416.41 328.69L409.91 328.69Z" fill="#37AD6B"/>
<path d="M425.69 331.92L428.94 326.42L422.44 326.42Z" fill="#37AD6B"/>
<path d="M438.21 326.88L441.46 321.38L434.96 321.38Z" fill="#37AD6B"/>
<path d="M450.74 324.11L453.99 318.61L447.49 318.61Z" fill="#37AD6B"/>
<path d="M463.27 320.35L466.52 314.85L460.02 314.85Z" fill="#37AD6B"/>
<path d="M475.79 316.39L479.04 310.89L472.54 310.89Z" fill="#37AD6B"/>
<path d="M488.32 312.07L491.57 306.57L485.07 306.57Z" fill="#37AD6B"/>
<path d="M500.85 307.45L504.10 301.95L497.60 301.95Z" fill="#37AD6B"/>
<path d="M513.38 302.10L516.62 296.60L510.12 296.60Z" fill="#37AD6B"/>
<path d="M525.90 296.45L529.15 290.95L522.65 290.95Z" fill="#37AD6B"/>
<path d="M538.43 289.21L541.68 283.71L535.18 283.71Z" fill="#37AD6B"/>
<path d="M550.96 278.47L554.21 272.97L547.71 272.97Z" fill="#37AD6B"/>
<path d="M563.48 271.15L566.73 265.65L560.23 265.65Z" fill="#37AD6B"/>
<path d="M576.01 263.04L579.26 257.54L572.76 257.54Z" fill="#37AD6B"/>
<path d="M588.54 254.38L591.79 248.88L585.29 248.88Z" fill="#37AD6B"/>
<path d="M601.06 245.91L604.31 240.41L597.81 240.41Z" fill="#37AD6B"/>
<path d="M613.59 237.82L616.84 232.32L610.34 232.32Z" fill="#37AD6B"/>
<path d="M626.12 229.84L629.37 224.34L622.87 224.34Z" fill="#37AD6B"/>
<path d="M638.64 221.89L641.89 216.39L635.39 216.39Z" fill="#37AD6B"/>
<path d="M651.17 213.86L654.42 208.36L647.92 208.36Z" fill="#37AD6B"/>
<path d="M663.70 206.60L666.95 201.10L660.45 201.10Z" fill="#37AD6B"/>
<path d="M109.80 418.33L122.38 382.17L134.96 365.04L147.54 350.12L160.12 337.20L172.70 326.94L185.28 320.16L197.86 314.28L210.44 310.94L223.02 307.98L235.60 305.87L248.18 303.65L260.76 302.19L273.34 300.63L285.92 299.07L298.50 297.58L311.08 296.11L323.66 295.47L336.24 295.02L348.82 294.69L361.40 294.41L373.98 294.10L386.56 293.68L399.14 293.09L411.72 291.92L424.30 290.33L436.88 289.21L449.46 289.30L462.04 286.83L474.62 285.10L487.20 282.54L499.78 280.36L512.36 277.07L524.94 272.43L537.52 268.53L550.10 263.05L562.68 256.54L575.26 248.11L587.84 236.34L600.42 224.43L613.00 207.63L625.58 188.02L638.16 161.16L650.74 131.67L663.32 102.12" fill="none" stroke="#B177DE" stroke-width="1.2"/>
<path d="M109.80 414.53L113.60 418.33L109.80 422.13L106.00 418.33Z" fill="#B177DE"/>
<path d="M122.38 378.37L126.18 382.17L122.38 385.97L118.58 382.17Z" fill="#B177DE"/>
<path d="M134.96 361.24L138.76 365.04L134.96 368.84L131.16 365.04Z" fill="#B177DE"/>
<path d="M147.54 346.32L151.34 350.12L147.54 353.92L143.74 350.12Z" fill="#B177DE"/>
<path d="M160.12 333.40L163.92 337.20L160.12 341.00L156.32 337.20Z" fill="#B177DE"/>
<path d="M172.70 323.14L176.50 326.94L172.70 330.74L168.90 326.94Z" fill="#B177DE"/>
<path d="M185.28 316.36L189.08 320.16L185.28 323.96L181.48 320.16Z" fill="#B177DE"/>
<path d="M197.86 310.48L201.66 314.28L197.86 318.08L194.06 314.28Z" fill="#B177DE"/>
<path d="M210.44 307.14L214.24 310.94L210.44 314.74L206.64 310.94Z" fill="#B177DE"/>
<path d="M223.02 304.18L226.82 307.98L223.02 311.78L219.22 307.98Z" fill="#B177DE"/>
<path d="M235.60 302.07L239.40 305.87L235.60 309.67L231.80 305.87Z" fill="#B177DE"/>
<path d="M248.18 299.85L251.98 303.65L248.18 307.45L244.38 303.65Z" fill="#B177DE"/>
<path d="M260.76 298.39L264.56 302.19L260.76 305.99L256.96 302.19Z" fill="#B177DE"/>
<path d="M273.34 296.83L277.14 300.63L273.34 304.43L269.54 300.63Z" fill="#B177DE"/>
<path d="M285.92 295.27L289.72 299.07L285.92 302.87L282.12 299.07Z" fill="#B177DE"/>
<path d="M298.50 293.78L302.30 297.58L298.50 301.38L294.70 297.58Z" fill="#B177DE"/>
<path d="M311.08 292.31L314.88 296.11L311.08 299.91L307.28 296.11Z" fill="#B177DE"/>
<path d="M323.66 291.67L327.46 295.47L323.66 299.27L319.86 295.47Z" fill="#B177DE"/>
<path d="M336.24 291.22L340.04 295.02L336.24 298.82L332.44 295.02Z" fill="#B177DE"/>
<path d="M348.82 290.89L352.62 294.69L348.82 298.49L345.02 294.69Z" fill="#B177DE"/>
<path d="M361.40 290.61L365.20 294.41L361.40 298.21L357.60 294.41Z" fill="#B177DE"/>
<path d="M373.98 290.30L377.78 294.10L373.98 297.90L370.18 294.10Z" fill="#B177DE"/>
<path d="M386.56 289.88L390.36 293.68L386.56 297.48L382.76 293.68Z" fill="#B177DE"/>
<path d="M399.14 289.29L402.94 293.09L399.14 296.89L395.34 293.09Z" fill="#B177DE"/>
<path d="M411.72 288.12L415.52 291.92L411.72 295.72L407.92 291.92Z" fill="#B177DE"/>
<path d="M424.30 286.53L428.10 290.33L424.30 294.13L420.50 290.33Z" fill="#B177DE"/>
<path d="M436.88 285.41L440.68 289.21L436.88 293.01L433.08 289.21Z" fill="#B177DE"/>
<path d="M449.46 285.50L453.26 289.30L449.46 293.10L445.66 289.30Z" fill="#B177DE"/>
<path d="M462.04 283.03L465.84 286.83L462.04 290.63L458.24 286.83Z" fill="#B177DE"/>
<path d="M474.62 281.30L478.42 285.10L474.62 288.90L470.82 285.10Z" fill="#B177DE"/>
<path d="M487.20 278.74L491.00 282.54L487.20 286.34L483.40 282.54Z" fill="#B177DE"/>
<path d="M499.78 276.56L503.58 280.36L499.78 284.16L495.98 280.36Z" fill="#B177DE"/>
<path d="M512.36 273.27L516.16 277.07L512.36 280.87L508.56 277.07Z" fill="#B177DE"/>
<path d="M524.94 268.63L528.74 272.43L524.94 276.23L521.14 272.43Z" fill="#B177DE"/>
<path d="M537.52 264.73L541.32 268.53L537.52 272.33L533.72 268.53Z" fill="#B177DE"/>
<path d="M550.10 259.25L553.90 263.05L550.10 266.85L546.30 263.05Z" fill="#B177DE"/>
<path d="M562.68 252.74L566.48 256.54L562.68 260.34L558.88 256.54Z" fill="#B177DE"/>
<path d="M575.26 244.31L579.06 248.11L575.26 251.91L571.46 248.11Z" fill="#B177DE"/>
<path d="M587.84 232.54L591.64 236.34L587.84 240.14L584.04 236.34Z" fill="#B177DE"/>
<path d="M600.42 220.63L604.22 224.43L600.42 228.23L596.62 224.43Z" fill="#B177DE"/>
<path d="M613.00 203.83L616.80 207.63L613.00 211.43L609.20 207.63Z" fill="#B177DE"/>
<path d="M625.58 184.22L629.38 188.02L625.58 191.82L621.78 188.02Z" fill="#B177DE"/>
<path d="M638.16 157.36L641.96 161.16L638.16 164.96L634.36 161.16Z" fill="#B177DE"/>
<path d="M650.74 127.87L654.54 131.67L650.74 135.47L646.94 131.67Z" fill="#B177DE"/>
<path d="M663.32 98.32L667.12 102.12L663.32 105.92L659.52 102.12Z" fill="#B177DE"/>
<path d="M200.20 267.80L212.73 266.99L225.25 266.50L237.78 265.89L250.31 265.20L262.83 264.79L275.36 264.29L287.89 263.89L300.42 263.29L312.94 262.78L325.47 262.00L338.00 261.70L350.52 260.69L363.05 260.19L375.58 259.79L388.11 258.90L400.63 258.49L413.16 257.99L425.69 256.94L438.21 256.49L450.74 254.59L463.27 253.68L475.79 252.17L488.32 249.96L500.85 247.75L513.38 244.33L525.90 241.19L538.43 234.41L550.96 229.07L563.48 220.06L576.01 210.31L588.54 198.67L601.06 186.11L613.59 169.84L626.12 155.18L638.64 138.29L651.17 119.16L663.70 101.43" fill="none" stroke="#B177DE" stroke-width="1.2"/>
<path d="M200.20 264.00L204.00 267.80L200.20 271.60L196.40 267.80Z" fill="#B177DE"/>
<path d="M212.73 263.19L216.53 266.99L212.73 270.79L208.93 266.99Z" fill="#B177DE"/>
<path d="M225.25 262.70L229.05 266.50L225.25 270.30L221.45 266.50Z" fill="#B177DE"/>
<path d="M237.78 262.09L241.58 265.89L237.78 269.69L233.98 265.89Z" fill="#B177DE"/>
<path d="M250.31 261.40L254.11 265.20L250.31 269.00L246.51 265.20Z" fill="#B177DE"/>
<path d="M262.83 260.99L266.63 264.79L262.83 268.59L259.03 264.79Z" fill="#B177DE"/>
<path d="M275.36 260.49L279.16 264.29L275.36 268.09L271.56 264.29Z" fill="#B177DE"/>
<path d="M287.89 260.09L291.69 263.89L287.89 267.69L284.09 263.89Z" fill="#B177DE"/>
<path d="M300.42 259.49L304.22 263.29L300.42 267.09L296.62 263.29Z" fill="#B177DE"/>
<path d="M312.94 258.98L316.74 262.78L312.94 266.58L309.14 262.78Z" fill="#B177DE"/>
<path d="M325.47 258.20L329.27 262.00L325.47 265.80L321.67 262.00Z" fill="#B177DE"/>
<path d="M338.00 257.90L341.80 261.70L338.00 265.50L334.20 261.70Z" fill="#B177DE"/>
<path d="M350.52 256.89L354.32 260.69L350.52 264.49L346.72 260.69Z" fill="#B177DE"/>
<path d="M363.05 256.39L366.85 260.19L363.05 263.99L359.25 260.19Z" fill="#B177DE"/>
<path d="M375.58 255.99L379.38 259.79L375.58 263.59L371.78 259.79Z" fill="#B177DE"/>
<path d="M388.11 255.10L391.91 258.90L388.11 262.70L384.31 258.90Z" fill="#B177DE"/>
<path d="M400.63 254.69L404.43 258.49L400.63 262.29L396.83 258.49Z" fill="#B177DE"/>
<path d="M413.16 254.19L416.96 257.99L413.16 261.79L409.36 257.99Z" fill="#B177DE"/>
<path d="M425.69 253.14L429.49 256.94L425.69 260.74L421.89 256.94Z" fill="#B177DE"/>
<path d="M438.21 252.69L442.01 256.49L438.21 260.29L434.41 256.49Z" fill="#B177DE"/>
<path d="M450.74 250.79L454.54 254.59L450.74 258.39L446.94 254.59Z" fill="#B177DE"/>
<path d="M463.27 249.88L467.07 253.68L463.27 257.48L459.47 253.68Z" fill="#B177DE"/>
<path d="M475.79 248.37L479.59 252.17L475.79 255.97L471.99 252.17Z" fill="#B177DE"/>
<path d="M488.32 246.16L492.12 249.96L488.32 253.76L484.52 249.96Z" fill="#B177DE"/>
<path d="M500.85 243.95L504.65 247.75L500.85 251.55L497.05 247.75Z" fill="#B177DE"/>
<path d="M513.38 240.53L517.17 244.33L513.38 248.13L509.57 244.33Z" fill="#B177DE"/>
<path d="M525.90 237.39L529.70 241.19L525.90 244.99L522.10 241.19Z" fill="#B177DE"/>
<path d="M538.43 230.61L542.23 234.41L538.43 238.21L534.63 234.41Z" fill="#B177DE"/>
<path d="M550.96 225.27L554.76 229.07L550.96 232.87L547.16 229.07Z" fill="#B177DE"/>
<path d="M563.48 216.26L567.28 220.06L563.48 223.86L559.68 220.06Z" fill="#B177DE"/>
<path d="M576.01 206.51L579.81 210.31L576.01 214.11L572.21 210.31Z" fill="#B177DE"/>
<path d="M588.54 194.87L592.34 198.67L588.54 202.47L584.74 198.67Z" fill="#B177DE"/>
<path d="M601.06 182.31L604.86 186.11L601.06 189.91L597.26 186.11Z" fill="#B177DE"/>
<path d="M613.59 166.04L617.39 169.84L613.59 173.64L609.79 169.84Z" fill="#B177DE"/>
<path d="M626.12 151.38L629.92 155.18L626.12 158.98L622.32 155.18Z" fill="#B177DE"/>
<path d="M638.64 134.49L642.44 138.29L638.64 142.09L634.85 138.29Z" fill="#B177DE"/>
<path d="M651.17 115.36L654.97 119.16L651.17 122.96L647.37 119.16Z" fill="#B177DE"/>
<path d="M663.70 97.63L667.50 101.43L663.70 105.23L659.90 101.43Z" fill="#B177DE"/>
<path d="M109.80 418.61L122.38 368.35L134.96 344.79L147.54 326.74L160.12 311.10L172.70 301.11L185.28 292.93L197.86 286.67L210.44 280.64L223.02 276.09L235.60 272.16L248.18 268.59L260.76 265.06L273.34 262.08L285.92 259.49L298.50 256.76L311.08 254.33L323.66 251.89L336.24 250.10L348.82 247.96L361.40 245.79L373.98 244.28L386.56 242.46L399.14 240.61L411.72 239.01L424.30 237.10L436.88 235.61L449.46 233.11L462.04 229.22L474.62 226.88L487.20 223.13L499.78 218.09L512.36 212.00L524.94 204.18L537.52 195.66L550.10 184.00L562.68 171.70L575.26 156.37L587.84 139.54L600.42 119.52L613.00 98.96L625.58 77.21L638.16 55.40L650.74 33.77L663.32 14.16" fill="none" stroke="#CC9900" stroke-width="1.2"/>
<path d="M106.07 418.61L111.67 415.36L111.67 421.86Z" fill="#CC9900" stroke="#CC9900" stroke-width="0.6" stroke-linejoin="round"/>
<path d="M118.65 368.35L124.25 365.10L124.25 371.60Z" fill="#CC9900" stroke="#CC9900" stroke-width="0.6" stroke-linejoin="round"/>
<path d="M131.23 344.79L136.83 341.54L136.83 348.04Z" fill="#CC9900" stroke="#CC9900" stroke-width="0.6" stroke-linejoin="round"/>
<path d="M143.81 326.74L149.41 323.49L149.41 329.99Z" fill="#CC9900" stroke="#CC9900" stroke-width="0.6" stroke-linejoin="round"/>
<path d="M156.39 311.10L161.99 307.85L161.99 314.35Z" fill="#CC9900" stroke="#CC9900" stroke-width="0.6" stroke-linejoin="round"/>
<path d="M168.97 301.11L174.57 297.86L174.57 304.36Z" fill="#CC9900" stroke="#CC9900" stroke-width="0.6" stroke-linejoin="round"/>
<path d="M181.55 292.93L187.15 289.68L187.15 296.18Z" fill="#CC9900" stroke="#CC9900" stroke-width="0.6" stroke-linejoin="round"/>
<path d="M194.13 286.67L199.73 283.42L199.73 289.92Z" fill="#CC9900" stroke="#CC9900" stroke-width="0.6" stroke-linejoin="round"/>
<path d="M206.71 280.64L212.31 277.39L212.31 283.89Z" fill="#CC9900" stroke="#CC9900" stroke-width="0.6" stroke-linejoin="round"/>
<path d="M219.29 276.09L224.89 272.84L224.89 279.34Z" fill="#CC9900" stroke="#CC9900" stroke-width="0.6" stroke-linejoin="round"/>
<path d="M231.87 272.16L237.47 268.91L237.47 275.41Z" fill="#CC9900" stroke="#CC9900" stroke-width="0.6" stroke-linejoin="round"/>
<path d="M244.45 268.59L250.05 265.34L250.05 271.84Z" fill="#CC9900" stroke="#CC9900" stroke-width="0.6" stroke-linejoin="round"/>
<path d="M257.03 265.06L262.63 261.81L262.63 268.31Z" fill="#CC9900" stroke="#CC9900" stroke-width="0.6" stroke-linejoin="round"/>
<path d="M269.61 262.08L275.21 258.83L275.21 265.33Z" fill="#CC9900" stroke="#CC9900" stroke-width="0.6" stroke-linejoin="round"/>
<path d="M282.19 259.49L287.79 256.24L287.79 262.74Z" fill="#CC9900" stroke="#CC9900" stroke-width="0.6" stroke-linejoin="round"/>
<path d="M294.77 256.76L300.37 253.51L300.37 260.01Z" fill="#CC9900" stroke="#CC9900" stroke-width="0.6" stroke-linejoin="round"/>
<path d="M307.35 254.33L312.95 251.08L312.95 257.58Z" fill="#CC9900" stroke="#CC9900" stroke-width="0.6" stroke-linejoin="round"/>
<path d="M319.93 251.89L325.53 248.64L325.53 255.14Z" fill="#CC9900" stroke="#CC9900" stroke-width="0.6" stroke-linejoin="round"/>
<path d="M332.51 250.10L338.11 246.85L338.11 253.35Z" fill="#CC9900" stroke="#CC9900" stroke-width="0.6" stroke-linejoin="round"/>
<path d="M345.09 247.96L350.69 244.71L350.69 251.21Z" fill="#CC9900" stroke="#CC9900" stroke-width="0.6" stroke-linejoin="round"/>
<path d="M357.67 245.79L363.27 242.54L363.27 249.04Z" fill="#CC9900" stroke="#CC9900" stroke-width="0.6" stroke-linejoin="round"/>
<path d="M370.25 244.28L375.85 241.03L375.85 247.53Z" fill="#CC9900" stroke="#CC9900" stroke-width="0.6" stroke-linejoin="round"/>
<path d="M382.83 242.46L388.43 239.21L388.43 245.71Z" fill="#CC9900" stroke="#CC9900" stroke-width="0.6" stroke-linejoin="round"/>
<path d="M395.41 240.61L401.01 237.36L401.01 243.86Z" fill="#CC9900" stroke="#CC9900" stroke-width="0.6" stroke-linejoin="round"/>
<path d="M407.99 239.01L413.59 235.76L413.59 242.26Z" fill="#CC9900" stroke="#CC9900" stroke-width="0.6" stroke-linejoin="round"/>
<path d="M420.57 237.10L426.17 233.85L426.17 240.35Z" fill="#CC9900" stroke="#CC9900" stroke-width="0.6" stroke-linejoin="round"/>
<path d="M433.15 235.61L438.75 232.36L438.75 238.86Z" fill="#CC9900" stroke="#CC9900" stroke-width="0.6" stroke-linejoin="round"/>
<path d="M445.73 233.11L451.33 229.86L451.33 236.36Z" fill="#CC9900" stroke="#CC9900" stroke-width="0.6" stroke-linejoin="round"/>
<path d="M458.31 229.22L463.91 225.97L463.91 232.47Z" fill="#CC9900" stroke="#CC9900" stroke-width="0.6" stroke-linejoin="round"/>
<path d="M470.89 226.88L476.49 223.63L476.49 230.13Z" fill="#CC9900" stroke="#CC9900" stroke-width="0.6" stroke-linejoin="round"/>
<path d="M483.47 223.13L489.07 219.88L489.07 226.38Z" fill="#CC9900" stroke="#CC9900" stroke-width="0.6" stroke-linejoin="round"/>
<path d="M496.05 218.09L501.65 214.84L501.65 221.34Z" fill="#CC9900" stroke="#CC9900" stroke-width="0.6" stroke-linejoin="round"/>
<path d="M508.63 212.00L514.23 208.75L514.23 215.25Z" fill="#CC9900" stroke="#CC9900" stroke-width="0.6" stroke-linejoin="round"/>
<path d="M521.21 204.18L526.81 200.93L526.81 207.43Z" fill="#CC9900" stroke="#CC9900" stroke-width="0.6" stroke-linejoin="round"/>
<path d="M533.79 195.66L539.39 192.41L539.39 198.91Z" fill="#CC9900" stroke="#CC9900" stroke-width="0.6" stroke-linejoin="round"/>
<path d="M546.37 184.00L551.97 180.75L551.97 187.25Z" fill="#CC9900" stroke="#CC9900" stroke-width="0.6" stroke-linejoin="round"/>
<path d="M558.95 171.70L564.55 168.45L564.55 174.95Z" fill="#CC9900" stroke="#CC9900" stroke-width="0.6" stroke-linejoin="round"/>
<path d="M571.53 156.37L577.13 153.12L577.13 159.62Z" fill="#CC9900" stroke="#CC9900" stroke-width="0.6" stroke-linejoin="round"/>
<path d="M584.11 139.54L589.71 136.29L589.71 142.79Z" fill="#CC9900" stroke="#CC9900" stroke-width="0.6" stroke-linejoin="round"/>
<path d="M596.69 119.52L602.29 116.27L602.29 122.77Z" fill="#CC9900" stroke="#CC9900" stroke-width="0.6" stroke-linejoin="round"/>
<path d="M609.27 98.96L614.87 95.71L614.87 102.21Z" fill="#CC9900" stroke="#CC9900" stroke-width="0.6" stroke-linejoin="round"/>
<path d="M621.85 77.21L627.45 73.96L627.45 80.46Z" fill="#CC9900" stroke="#CC9900" stroke-width="0.6" stroke-linejoin="round"/>
<path d="M634.43 55.40L640.03 52.15L640.03 58.65Z" fill="#CC9900" stroke="#CC9900" stroke-width="0.6" stroke-linejoin="round"/>
<path d="M647.01 33.77L652.61 30.52L652.61 37.02Z" fill="#CC9900" stroke="#CC9900" stroke-width="0.6" stroke-linejoin="round"/>
<path d="M659.59 14.16L665.19 10.91L665.19 17.41Z" fill="#CC9900" stroke="#CC9900" stroke-width="0.6" stroke-linejoin="round"/>
<path d="M200.20 231.26L212.73 230.35L225.25 229.34L237.78 228.04L250.31 226.94L262.83 226.03L275.36 224.72L287.89 223.40L300.42 221.91L312.94 220.49L325.47 218.97L338.00 217.46L350.52 215.74L363.05 214.02L375.58 212.53L388.11 211.01L400.63 209.18L413.16 207.50L425.69 205.84L438.21 203.80L450.74 201.87L463.27 199.14L475.79 195.68L488.32 192.15L500.85 186.50L513.38 179.93L525.90 170.76L538.43 159.00L550.96 146.40L563.48 132.02L576.01 116.44L588.54 100.80L601.06 84.57L613.59 69.74L626.12 55.01L638.64 40.15L651.17 25.40L663.70 13.60" fill="none" stroke="#CC9900" stroke-width="1.2"/>
<path d="M196.47 231.26L202.07 228.01L202.07 234.51Z" fill="#CC9900" stroke="#CC9900" stroke-width="0.6" stroke-linejoin="round"/>
<path d="M208.99 230.35L214.59 227.10L214.59 233.60Z" fill="#CC9900" stroke="#CC9900" stroke-width="0.6" stroke-linejoin="round"/>
<path d="M221.52 229.34L227.12 226.09L227.12 232.59Z" fill="#CC9900" stroke="#CC9900" stroke-width="0.6" stroke-linejoin="round"/>
<path d="M234.05 228.04L239.65 224.79L239.65 231.29Z" fill="#CC9900" stroke="#CC9900" stroke-width="0.6" stroke-linejoin="round"/>
<path d="M246.57 226.94L252.17 223.69L252.17 230.19Z" fill="#CC9900" stroke="#CC9900" stroke-width="0.6" stroke-linejoin="round"/>
<path d="M259.10 226.03L264.70 222.78L264.70 229.28Z" fill="#CC9900" stroke="#CC9900" stroke-width="0.6" stroke-linejoin="round"/>
<path d="M271.63 224.72L277.23 221.47L277.23 227.97Z" fill="#CC9900" stroke="#CC9900" stroke-width="0.6" stroke-linejoin="round"/>
<path d="M284.16 223.40L289.76 220.15L289.76 226.65Z" fill="#CC9900" stroke="#CC9900" stroke-width="0.6" stroke-linejoin="round"/>
<path d="M296.68 221.91L302.28 218.66L302.28 225.16Z" fill="#CC9900" stroke="#CC9900" stroke-width="0.6" stroke-linejoin="round"/>
<path d="M309.21 220.49L314.81 217.24L314.81 223.74Z" fill="#CC9900" stroke="#CC9900" stroke-width="0.6" stroke-linejoin="round"/>
<path d="M321.74 218.97L327.34 215.72L327.34 222.22Z" fill="#CC9900" stroke="#CC9900" stroke-width="0.6" stroke-linejoin="round"/>
<path d="M334.26 217.46L339.86 214.21L339.86 220.71Z" fill="#CC9900" stroke="#CC9900" stroke-width="0.6" stroke-linejoin="round"/>
<path d="M346.79 215.74L352.39 212.49L352.39 218.99Z" fill="#CC9900" stroke="#CC9900" stroke-width="0.6" stroke-linejoin="round"/>
<path d="M359.32 214.02L364.92 210.77L364.92 217.27Z" fill="#CC9900" stroke="#CC9900" stroke-width="0.6" stroke-linejoin="round"/>
<path d="M371.84 212.53L377.44 209.28L377.44 215.78Z" fill="#CC9900" stroke="#CC9900" stroke-width="0.6" stroke-linejoin="round"/>
<path d="M384.37 211.01L389.97 207.76L389.97 214.26Z" fill="#CC9900" stroke="#CC9900" stroke-width="0.6" stroke-linejoin="round"/>
<path d="M396.90 209.18L402.50 205.93L402.50 212.43Z" fill="#CC9900" stroke="#CC9900" stroke-width="0.6" stroke-linejoin="round"/>
<path d="M409.43 207.50L415.03 204.25L415.03 210.75Z" fill="#CC9900" stroke="#CC9900" stroke-width="0.6" stroke-linejoin="round"/>
<path d="M421.95 205.84L427.55 202.59L427.55 209.09Z" fill="#CC9900" stroke="#CC9900" stroke-width="0.6" stroke-linejoin="round"/>
<path d="M434.48 203.80L440.08 200.55L440.08 207.05Z" fill="#CC9900" stroke="#CC9900" stroke-width="0.6" stroke-linejoin="round"/>
<path d="M447.01 201.87L452.61 198.62L452.61 205.12Z" fill="#CC9900" stroke="#CC9900" stroke-width="0.6" stroke-linejoin="round"/>
<path d="M459.53 199.14L465.13 195.89L465.13 202.39Z" fill="#CC9900" stroke="#CC9900" stroke-width="0.6" stroke-linejoin="round"/>
<path d="M472.06 195.68L477.66 192.43L477.66 198.93Z" fill="#CC9900" stroke="#CC9900" stroke-width="0.6" stroke-linejoin="round"/>
<path d="M484.59 192.15L490.19 188.90L490.19 195.40Z" fill="#CC9900" stroke="#CC9900" stroke-width="0.6" stroke-linejoin="round"/>
<path d="M497.11 186.50L502.71 183.25L502.71 189.75Z" fill="#CC9900" stroke="#CC9900" stroke-width="0.6" stroke-linejoin="round"/>
<path d="M509.64 179.93L515.24 176.68L515.24 183.18Z" fill="#CC9900" stroke="#CC9900" stroke-width="0.6" stroke-linejoin="round"/>
<path d="M522.17 170.76L527.77 167.51L527.77 174.01Z" fill="#CC9900" stroke="#CC9900" stroke-width="0.6" stroke-linejoin="round"/>
<path d="M534.70 159.00L540.30 155.75L540.30 162.25Z" fill="#CC9900" stroke="#CC9900" stroke-width="0.6" stroke-linejoin="round"/>
<path d="M547.22 146.40L552.82 143.15L552.82 149.65Z" fill="#CC9900" stroke="#CC9900" stroke-width="0.6" stroke-linejoin="round"/>
<path d="M559.75 132.02L565.35 128.77L565.35 135.27Z" fill="#CC9900" stroke="#CC9900" stroke-width="0.6" stroke-linejoin="round"/>
<path d="M572.28 116.44L577.88 113.19L577.88 119.69Z" fill="#CC9900" stroke="#CC9900" stroke-width="0.6" stroke-linejoin="round"/>
<path d="M584.80 100.80L590.40 97.55L590.40 104.05Z" fill="#CC9900" stroke="#CC9900" stroke-width="0.6" stroke-linejoin="round"/>
<path d="M597.33 84.57L602.93 81.32L602.93 87.82Z" fill="#CC9900" stroke="#CC9900" stroke-width="0.6" stroke-linejoin="round"/>
<path d="M609.86 69.74L615.46 66.49L615.46 72.99Z" fill="#CC9900" stroke="#CC9900" stroke-width="0.6" stroke-linejoin="round"/>
<path d="M622.38 55.01L627.98 51.76L627.98 58.26Z" fill="#CC9900" stroke="#CC9900" stroke-width="0.6" stroke-linejoin="round"/>
<path d="M634.91 40.15L640.51 36.90L640.51 43.40Z" fill="#CC9900" stroke="#CC9900" stroke-width="0.6" stroke-linejoin="round"/>
<path d="M647.44 25.40L653.04 22.15L653.04 28.65Z" fill="#CC9900" stroke="#CC9900" stroke-width="0.6" stroke-linejoin="round"/>
<path d="M659.97 13.60L665.57 10.35L665.57 16.85Z" fill="#CC9900" stroke="#CC9900" stroke-width="0.6" stroke-linejoin="round"/>
<path d="M109.80 417.97L122.38 399.84L134.96 392.07L147.54 384.21L160.12 377.74L172.70 371.99L185.28 367.88L197.86 364.28L210.44 361.45L223.02 358.65L235.60 355.86L248.18 353.52L260.76 351.29L273.34 348.97L285.92 346.66L298.50 344.77L311.08 343.04L323.66 339.93L336.24 338.04L348.82 335.65L361.40 333.83L373.98 331.93L386.56 330.10L399.14 328.21L411.72 326.47L424.30 324.67L436.88 323.12L449.46 319.85L462.04 318.10L474.62 316.65L487.20 314.87L499.78 312.93L512.36 310.67L524.94 308.66L537.52 306.41L550.10 303.97L562.68 300.30L575.26 296.54L587.84 292.96L600.42 287.41L613.00 281.86L625.58 273.53L638.16 264.00L650.74 252.57L663.32 242.12" fill="none" stroke="#00CBCC" stroke-width="1.2"/>
<path d="M113.53 417.97L107.93 414.72L107.93 421.22Z" fill="#00CBCC" stroke="#00CBCC" stroke-width="0.6" stroke-linejoin="round"/>
<path d="M126.11 399.84L120.51 396.59L120.51 403.09Z" fill="#00CBCC" stroke="#00CBCC" stroke-width="0.6" stroke-linejoin="round"/>
<path d="M138.69 392.07L133.09 388.82L133.09 395.32Z" fill="#00CBCC" stroke="#00CBCC" stroke-width="0.6" stroke-linejoin="round"/>
<path d="M151.27 384.21L145.67 380.96L145.67 387.46Z" fill="#00CBCC" stroke="#00CBCC" stroke-width="0.6" stroke-linejoin="round"/>
<path d="M163.85 377.74L158.25 374.49L158.25 380.99Z" fill="#00CBCC" stroke="#00CBCC" stroke-width="0.6" stroke-linejoin="round"/>
<path d="M176.43 371.99L170.83 368.74L170.83 375.24Z" fill="#00CBCC" stroke="#00CBCC" stroke-width="0.6" stroke-linejoin="round"/>
<path d="M189.01 367.88L183.41 364.63L183.41 371.13Z" fill="#00CBCC" stroke="#00CBCC" stroke-width="0.6" stroke-linejoin="round"/>
<path d="M201.59 364.28L195.99 361.03L195.99 367.53Z" fill="#00CBCC" stroke="#00CBCC" stroke-width="0.6" stroke-linejoin="round"/>
<path d="M214.17 361.45L208.57 358.20L208.57 364.70Z" fill="#00CBCC" stroke="#00CBCC" stroke-width="0.6" stroke-linejoin="round"/>
<path d="M226.75 358.65L221.15 355.40L221.15 361.90Z" fill="#00CBCC" stroke="#00CBCC" stroke-width="0.6" stroke-linejoin="round"/>
<path d="M239.33 355.86L233.73 352.61L233.73 359.11Z" fill="#00CBCC" stroke="#00CBCC" stroke-width="0.6" stroke-linejoin="round"/>
<path d="M251.91 353.52L246.31 350.27L246.31 356.77Z" fill="#00CBCC" stroke="#00CBCC" stroke-width="0.6" stroke-linejoin="round"/>
<path d="M264.49 351.29L258.89 348.04L258.89 354.54Z" fill="#00CBCC" stroke="#00CBCC" stroke-width="0.6" stroke-linejoin="round"/>
<path d="M277.07 348.97L271.47 345.72L271.47 352.22Z" fill="#00CBCC" stroke="#00CBCC" stroke-width="0.6" stroke-linejoin="round"/>
<path d="M289.65 346.66L284.05 343.41L284.05 349.91Z" fill="#00CBCC" stroke="#00CBCC" stroke-width="0.6" stroke-linejoin="round"/>
<path d="M302.23 344.77L296.63 341.52L296.63 348.02Z" fill="#00CBCC" stroke="#00CBCC" stroke-width="0.6" stroke-linejoin="round"/>
<path d="M314.81 343.04L309.21 339.79L309.21 346.29Z" fill="#00CBCC" stroke="#00CBCC" stroke-width="0.6" stroke-linejoin="round"/>
<path d="M327.39 339.93L321.79 336.68L321.79 343.18Z" fill="#00CBCC" stroke="#00CBCC" stroke-width="0.6" stroke-linejoin="round"/>
<path d="M339.97 338.04L334.37 334.79L334.37 341.29Z" fill="#00CBCC" stroke="#00CBCC" stroke-width="0.6" stroke-linejoin="round"/>
<path d="M352.55 335.65L346.95 332.40L346.95 338.90Z" fill="#00CBCC" stroke="#00CBCC" stroke-width="0.6" stroke-linejoin="round"/>
<path d="M365.13 333.83L359.53 330.58L359.53 337.08Z" fill="#00CBCC" stroke="#00CBCC" stroke-width="0.6" stroke-linejoin="round"/>
<path d="M377.71 331.93L372.11 328.68L372.11 335.18Z" fill="#00CBCC" stroke="#00CBCC" stroke-width="0.6" stroke-linejoin="round"/>
<path d="M390.29 330.10L384.69 326.85L384.69 333.35Z" fill="#00CBCC" stroke="#00CBCC" stroke-width="0.6" stroke-linejoin="round"/>
<path d="M402.87 328.21L397.27 324.96L397.27 331.46Z" fill="#00CBCC" stroke="#00CBCC" stroke-width="0.6" stroke-linejoin="round"/>
<path d="M415.45 326.47L409.85 323.22L409.85 329.72Z" fill="#00CBCC" stroke="#00CBCC" stroke-width="0.6" stroke-linejoin="round"/>
<path d="M428.03 324.67L422.43 321.42L422.43 327.92Z" fill="#00CBCC" stroke="#00CBCC" stroke-width="0.6" stroke-linejoin="round"/>
<path d="M440.61 323.12L435.01 319.87L435.01 326.37Z" fill="#00CBCC" stroke="#00CBCC" stroke-width="0.6" stroke-linejoin="round"/>
<path d="M453.19 319.85L447.59 316.60L447.59 323.10Z" fill="#00CBCC" stroke="#00CBCC" stroke-width="0.6" stroke-linejoin="round"/>
<path d="M465.77 318.10L460.17 314.85L460.17 321.35Z" fill="#00CBCC" stroke="#00CBCC" stroke-width="0.6" stroke-linejoin="round"/>
<path d="M478.35 316.65L472.75 313.40L472.75 319.90Z" fill="#00CBCC" stroke="#00CBCC" stroke-width="0.6" stroke-linejoin="round"/>
<path d="M490.93 314.87L485.33 311.62L485.33 318.12Z" fill="#00CBCC" stroke="#00CBCC" stroke-width="0.6" stroke-linejoin="round"/>
<path d="M503.51 312.93L497.91 309.68L497.91 316.18Z" fill="#00CBCC" stroke="#00CBCC" stroke-width="0.6" stroke-linejoin="round"/>
<path d="M516.09 310.67L510.49 307.42L510.49 313.92Z" fill="#00CBCC" stroke="#00CBCC" stroke-width="0.6" stroke-linejoin="round"/>
<path d="M528.67 308.66L523.07 305.41L523.07 311.91Z" fill="#00CBCC" stroke="#00CBCC" stroke-width="0.6" stroke-linejoin="round"/>
<path d="M541.25 306.41L535.65 303.16L535.65 309.66Z" fill="#00CBCC" stroke="#00CBCC" stroke-width="0.6" stroke-linejoin="round"/>
<path d="M553.83 303.97L548.23 300.72L548.23 307.22Z" fill="#00CBCC" stroke="#00CBCC" stroke-width="0.6" stroke-linejoin="round"/>
<path d="M566.41 300.30L560.81 297.05L560.81 303.55Z" fill="#00CBCC" stroke="#00CBCC" stroke-width="0.6" stroke-linejoin="round"/>
<path d="M578.99 296.54L573.39 293.29L573.39 299.79Z" fill="#00CBCC" stroke="#00CBCC" stroke-width="0.6" stroke-linejoin="round"/>
<path d="M591.57 292.96L585.97 289.71L585.97 296.21Z" fill="#00CBCC" stroke="#00CBCC" stroke-width="0.6" stroke-linejoin="round"/>
<path d="M604.15 287.41L598.55 284.16L598.55 290.66Z" fill="#00CBCC" stroke="#00CBCC" stroke-width="0.6" stroke-linejoin="round"/>
<path d="M616.73 281.86L611.13 278.61L611.13 285.11Z" fill="#00CBCC" stroke="#00CBCC" stroke-width="0.6" stroke-linejoin="round"/>
<path d="M629.31 273.53L623.71 270.28L623.71 276.78Z" fill="#00CBCC" stroke="#00CBCC" stroke-width="0.6" stroke-linejoin="round"/>
<path d="M641.89 264.00L636.29 260.75L636.29 267.25Z" fill="#00CBCC" stroke="#00CBCC" stroke-width="0.6" stroke-linejoin="round"/>
<path d="M654.47 252.57L648.87 249.32L648.87 255.82Z" fill="#00CBCC" stroke="#00CBCC" stroke-width="0.6" stroke-linejoin="round"/>
<path d="M667.05 242.12L661.45 238.87L661.45 245.37Z" fill="#00CBCC" stroke="#00CBCC" stroke-width="0.6" stroke-linejoin="round"/>
<path d="M200.20 317.01L212.73 316.52L225.25 315.72L237.78 315.21L250.31 314.61L262.83 314.31L275.36 313.71L287.89 313.31L300.42 313.01L312.94 312.41L325.47 311.70L338.00 310.69L350.52 309.79L363.05 309.29L375.58 308.49L388.11 307.58L400.63 306.48L413.16 305.20L425.69 305.60L438.21 305.00L450.74 303.70L463.27 302.13L475.79 300.70L488.32 299.48L500.85 297.95L513.38 295.78L525.90 294.36L538.43 292.60L550.96 289.90L563.48 288.00L576.01 284.22L588.54 280.62L601.06 276.04L613.59 271.05L626.12 264.89L638.64 257.04L651.17 249.01L663.70 241.85" fill="none" stroke="#00CBCC" stroke-width="1.2"/>
<path d="M203.93 317.01L198.33 313.76L198.33 320.26Z" fill="#00CBCC" stroke="#00CBCC" stroke-width="0.6" stroke-linejoin="round"/>
<path d="M216.46 316.52L210.86 313.27L210.86 319.77Z" fill="#00CBCC" stroke="#00CBCC" stroke-width="0.6" stroke-linejoin="round"/>
<path d="M228.99 315.72L223.39 312.47L223.39 318.97Z" fill="#00CBCC" stroke="#00CBCC" stroke-width="0.6" stroke-linejoin="round"/>
<path d="M241.51 315.21L235.91 311.96L235.91 318.46Z" fill="#00CBCC" stroke="#00CBCC" stroke-width="0.6" stroke-linejoin="round"/>
<path d="M254.04 314.61L248.44 311.36L248.44 317.86Z" fill="#00CBCC" stroke="#00CBCC" stroke-width="0.6" stroke-linejoin="round"/>
<path d="M266.57 314.31L260.97 311.06L260.97 317.56Z" fill="#00CBCC" stroke="#00CBCC" stroke-width="0.6" stroke-linejoin="round"/>
<path d="M279.10 313.71L273.50 310.46L273.50 316.96Z" fill="#00CBCC" stroke="#00CBCC" stroke-width="0.6" stroke-linejoin="round"/>
<path d="M291.62 313.31L286.02 310.06L286.02 316.56Z" fill="#00CBCC" stroke="#00CBCC" stroke-width="0.6" stroke-linejoin="round"/>
<path d="M304.15 313.01L298.55 309.76L298.55 316.26Z" fill="#00CBCC" stroke="#00CBCC" stroke-width="0.6" stroke-linejoin="round"/>
<path d="M316.68 312.41L311.08 309.16L311.08 315.66Z" fill="#00CBCC" stroke="#00CBCC" stroke-width="0.6" stroke-linejoin="round"/>
<path d="M329.20 311.70L323.60 308.45L323.60 314.95Z" fill="#00CBCC" stroke="#00CBCC" stroke-width="0.6" stroke-linejoin="round"/>
<path d="M341.73 310.69L336.13 307.44L336.13 313.94Z" fill="#00CBCC" stroke="#00CBCC" stroke-width="0.6" stroke-linejoin="round"/>
<path d="M354.26 309.79L348.66 306.54L348.66 313.04Z" fill="#00CBCC" stroke="#00CBCC" stroke-width="0.6" stroke-linejoin="round"/>
<path d="M366.78 309.29L361.18 306.04L361.18 312.54Z" fill="#00CBCC" stroke="#00CBCC" stroke-width="0.6" stroke-linejoin="round"/>
<path d="M379.31 308.49L373.71 305.24L373.71 311.74Z" fill="#00CBCC" stroke="#00CBCC" stroke-width="0.6" stroke-linejoin="round"/>
<path d="M391.84 307.58L386.24 304.33L386.24 310.83Z" fill="#00CBCC" stroke="#00CBCC" stroke-width="0.6" stroke-linejoin="round"/>
<path d="M404.37 306.48L398.77 303.23L398.77 309.73Z" fill="#00CBCC" stroke="#00CBCC" stroke-width="0.6" stroke-linejoin="round"/>
<path d="M416.89 305.20L411.29 301.95L411.29 308.45Z" fill="#00CBCC" stroke="#00CBCC" stroke-width="0.6" stroke-linejoin="round"/>
<path d="M429.42 305.60L423.82 302.35L423.82 308.85Z" fill="#00CBCC" stroke="#00CBCC" stroke-width="0.6" stroke-linejoin="round"/>
<path d="M441.95 305.00L436.35 301.75L436.35 308.25Z" fill="#00CBCC" stroke="#00CBCC" stroke-width="0.6" stroke-linejoin="round"/>
<path d="M454.47 303.70L448.87 300.45L448.87 306.95Z" fill="#00CBCC" stroke="#00CBCC" stroke-width="0.6" stroke-linejoin="round"/>
<path d="M467.00 302.13L461.40 298.88L461.40 305.38Z" fill="#00CBCC" stroke="#00CBCC" stroke-width="0.6" stroke-linejoin="round"/>
<path d="M479.53 300.70L473.93 297.45L473.93 303.95Z" fill="#00CBCC" stroke="#00CBCC" stroke-width="0.6" stroke-linejoin="round"/>
<path d="M492.05 299.48L486.45 296.23L486.45 302.73Z" fill="#00CBCC" stroke="#00CBCC" stroke-width="0.6" stroke-linejoin="round"/>
<path d="M504.58 297.95L498.98 294.70L498.98 301.20Z" fill="#00CBCC" stroke="#00CBCC" stroke-width="0.6" stroke-linejoin="round"/>
<path d="M517.11 295.78L511.51 292.53L511.51 299.03Z" fill="#00CBCC" stroke="#00CBCC" stroke-width="0.6" stroke-linejoin="round"/>
<path d="M529.64 294.36L524.04 291.11L524.04 297.61Z" fill="#00CBCC" stroke="#00CBCC" stroke-width="0.6" stroke-linejoin="round"/>
<path d="M542.16 292.60L536.56 289.35L536.56 295.85Z" fill="#00CBCC" stroke="#00CBCC" stroke-width="0.6" stroke-linejoin="round"/>
<path d="M554.69 289.90L549.09 286.65L549.09 293.15Z" fill="#00CBCC" stroke="#00CBCC" stroke-width="0.6" stroke-linejoin="round"/>
<path d="M567.22 288.00L561.62 284.75L561.62 291.25Z" fill="#00CBCC" stroke="#00CBCC" stroke-width="0.6" stroke-linejoin="round"/>
<path d="M579.74 284.22L574.14 280.97L574.14 287.47Z" fill="#00CBCC" stroke="#00CBCC" stroke-width="0.6" stroke-linejoin="round"/>
<path d="M592.27 280.62L586.67 277.37L586.67 283.87Z" fill="#00CBCC" stroke="#00CBCC" stroke-width="0.6" stroke-linejoin="round"/>
<path d="M604.80 276.04L599.20 272.79L599.20 279.29Z" fill="#00CBCC" stroke="#00CBCC" stroke-width="0.6" stroke-linejoin="round"/>
<path d="M617.32 271.05L611.72 267.80L611.72 274.30Z" fill="#00CBCC" stroke="#00CBCC" stroke-width="0.6" stroke-linejoin="round"/>
<path d="M629.85 264.89L624.25 261.64L624.25 268.14Z" fill="#00CBCC" stroke="#00CBCC" stroke-width="0.6" stroke-linejoin="round"/>
<path d="M642.38 257.04L636.78 253.79L636.78 260.29Z" fill="#00CBCC" stroke="#00CBCC" stroke-width="0.6" stroke-linejoin="round"/>
<path d="M654.91 249.01L649.31 245.76L649.31 252.26Z" fill="#00CBCC" stroke="#00CBCC" stroke-width="0.6" stroke-linejoin="round"/>
<path d="M667.43 241.85L661.83 238.60L661.83 245.10Z" fill="#00CBCC" stroke="#00CBCC" stroke-width="0.6" stroke-linejoin="round"/>
<path d="M109.80 418.02L122.38 396.59L134.96 385.49L147.54 375.14L160.12 366.50L172.70 359.26L185.28 353.96L197.86 349.38L210.44 345.13L223.02 341.95L235.60 339.26L248.18 336.41L260.76 333.63L273.34 331.29L285.92 329.06L298.50 327.17L311.08 324.93L323.66 322.73L336.24 320.34L348.82 318.45L361.40 316.63L373.98 314.73L386.56 312.90L399.14 310.99L411.72 308.46L424.30 306.55L436.88 304.57L449.46 301.63L462.04 299.53L474.62 297.40L487.20 295.22L499.78 292.72L512.36 290.28L524.94 288.06L537.52 284.62L550.10 281.19L562.68 277.10L575.26 273.05L587.84 267.18L600.42 260.60L613.00 253.33L625.58 245.03L638.16 237.55L650.74 228.67L663.32 220.18" fill="none" stroke="#7D4E4E" stroke-width="1.2"/>
<circle cx="109.80" cy="418.02" r="3.20" fill="#7D4E4E"/>
<circle cx="122.38" cy="396.59" r="3.20" fill="#7D4E4E"/>
<circle cx="134.96" cy="385.49" r="3.20" fill="#7D4E4E"/>
<circle cx="147.54" cy="375.14" r="3.20" fill="#7D4E4E"/>
<circle cx="160.12" cy="366.50" r="3.20" fill="#7D4E4E"/>
<circle cx="172.70" cy="359.26" r="3.20" fill="#7D4E4E"/>
<circle cx="185.28" cy="353.96" r="3.20" fill="#7D4E4E"/>
<circle cx="197.86" cy="349.38" r="3.20" fill="#7D4E4E"/>
<circle cx="210.44" cy="345.13" r="3.20" fill="#7D4E4E"/>
<circle cx="223.02" cy="341.95" r="3.20" fill="#7D4E4E"/>
<circle cx="235.60" cy="339.26" r="3.20" fill="#7D4E4E"/>
<circle cx="248.18" cy="336.41" r="3.20" fill="#7D4E4E"/>
<circle cx="260.76" cy="333.63" r="3.20" fill="#7D4E4E"/>
<circle cx="273.34" cy="331.29" r="3.20" fill="#7D4E4E"/>
<circle cx="285.92" cy="329.06" r="3.20" fill="#7D4E4E"/>
<circle cx="298.50" cy="327.17" r="3.20" fill="#7D4E4E"/>
<circle cx="311.08" cy="324.93" r="3.20" fill="#7D4E4E"/>
<circle cx="323.66" cy="322.73" r="3.20" fill="#7D4E4E"/>
<circle cx="336.24" cy="320.34" r="3.20" fill="#7D4E4E"/>
<circle cx="348.82" cy="318.45" r="3.20" fill="#7D4E4E"/>
<circle cx="361.40" cy="316.63" r="3.20" fill="#7D4E4E"/>
<circle cx="373.98" cy="314.73" r="3.20" fill="#7D4E4E"/>
<circle cx="386.56" cy="312.90" r="3.20" fill="#7D4E4E"/>
<circle cx="399.14" cy="310.99" r="3.20" fill="#7D4E4E"/>
<circle cx="411.72" cy="308.46" r="3.20" fill="#7D4E4E"/>
<circle cx="424.30" cy="306.55" r="3.20" fill="#7D4E4E"/>
<circle cx="436.88" cy="304.57" r="3.20" fill="#7D4E4E"/>
<circle cx="449.46" cy="301.63" r="3.20" fill="#7D4E4E"/>
<circle cx="462.04" cy="299.53" r="3.20" fill="#7D4E4E"/>
<circle cx="474.62" cy="297.40" r="3.20" fill="#7D4E4E"/>
<circle cx="487.20" cy="295.22" r="3.20" fill="#7D4E4E"/>
<circle cx="499.78" cy="292.72" r="3.20" fill="#7D4E4E"/>
<circle cx="512.36" cy="290.28" r="3.20" fill="#7D4E4E"/>
<circle cx="524.94" cy="288.06" r="3.20" fill="#7D4E4E"/>
<circle cx="537.52" cy="284.62" r="3.20" fill="#7D4E4E"/>
<circle cx="550.10" cy="281.19" r="3.20" fill="#7D4E4E"/>
<circle cx="562.68" cy="277.10" r="3.20" fill="#7D4E4E"/>
<circle cx="575.26" cy="273.05" r="3.20" fill="#7D4E4E"/>
<circle cx="587.84" cy="267.18" r="3.20" fill="#7D4E4E"/>
<circle cx="600.42" cy="260.60" r="3.20" fill="#7D4E4E"/>
<circle cx="613.00" cy="253.33" r="3.20" fill="#7D4E4E"/>
<circle cx="625.58" cy="245.03" r="3.20" fill="#7D4E4E"/>
<circle cx="638.16" cy="237.55" r="3.20" fill="#7D4E4E"/>
<circle cx="650.74" cy="228.67" r="3.20" fill="#7D4E4E"/>
<circle cx="663.32" cy="220.18" r="3.20" fill="#7D4E4E"/>
<path d="M200.20 303.50L212.73 302.79L225.25 301.90L237.78 301.29L250.31 300.39L262.83 299.79L275.36 298.89L287.89 297.98L300.42 296.99L312.94 296.27L325.47 294.99L338.00 294.09L350.52 293.09L363.05 292.18L375.58 291.29L388.11 290.38L400.63 289.38L413.16 288.47L425.69 287.59L438.21 286.08L450.74 284.67L463.27 283.15L475.79 281.85L488.32 279.46L500.85 277.23L513.38 274.56L525.90 271.21L538.43 267.35L550.96 263.52L563.48 259.25L576.01 255.50L588.54 250.92L601.06 245.67L613.59 240.25L626.12 235.29L638.64 229.89L651.17 224.41L663.70 219.97" fill="none" stroke="#7D4E4E" stroke-width="1.2"/>
<circle cx="200.20" cy="303.50" r="3.20" fill="#7D4E4E"/>
<circle cx="212.73" cy="302.79" r="3.20" fill="#7D4E4E"/>
<circle cx="225.25" cy="301.90" r="3.20" fill="#7D4E4E"/>
<circle cx="237.78" cy="301.29" r="3.20" fill="#7D4E4E"/>
<circle cx="250.31" cy="300.39" r="3.20" fill="#7D4E4E"/>
<circle cx="262.83" cy="299.79" r="3.20" fill="#7D4E4E"/>
<circle cx="275.36" cy="298.89" r="3.20" fill="#7D4E4E"/>
<circle cx="287.89" cy="297.98" r="3.20" fill="#7D4E4E"/>
<circle cx="300.42" cy="296.99" r="3.20" fill="#7D4E4E"/>
<circle cx="312.94" cy="296.27" r="3.20" fill="#7D4E4E"/>
<circle cx="325.47" cy="294.99" r="3.20" fill="#7D4E4E"/>
<circle cx="338.00" cy="294.09" r="3.20" fill="#7D4E4E"/>
<circle cx="350.52" cy="293.09" r="3.20" fill="#7D4E4E"/>
<circle cx="363.05" cy="292.18" r="3.20" fill="#7D4E4E"/>
<circle cx="375.58" cy="291.29" r="3.20" fill="#7D4E4E"/>
<circle cx="388.11" cy="290.38" r="3.20" fill="#7D4E4E"/>
<circle cx="400.63" cy="289.38" r="3.20" fill="#7D4E4E"/>
<circle cx="413.16" cy="288.47" r="3.20" fill="#7D4E4E"/>
<circle cx="425.69" cy="287.59" r="3.20" fill="#7D4E4E"/>
<circle cx="438.21" cy="286.08" r="3.20" fill="#7D4E4E"/>
<circle cx="450.74" cy="284.67" r="3.20" fill="#7D4E4E"/>
<circle cx="463.27" cy="283.15" r="3.20" fill="#7D4E4E"/>
<circle cx="475.79" cy="281.85" r="3.20" fill="#7D4E4E"/>
<circle cx="488.32" cy="279.46" r="3.20" fill="#7D4E4E"/>
<circle cx="500.85" cy="277.23" r="3.20" fill="#7D4E4E"/>
<circle cx="513.38" cy="274.56" r="3.20" fill="#7D4E4E"/>
<circle cx="525.90" cy="271.21" r="3.20" fill="#7D4E4E"/>
<circle cx="538.43" cy="267.35" r="3.20" fill="#7D4E4E"/>
<circle cx="550.96" cy="263.52" r="3.20" fill="#7D4E4E"/>
<circle cx="563.48" cy="259.25" r="3.20" fill="#7D4E4E"/>
<circle cx="576.01" cy="255.50" r="3.20" fill="#7D4E4E"/>
<circle cx="588.54" cy="250.92" r="3.20" fill="#7D4E4E"/>
<circle cx="601.06" cy="245.67" r="3.20" fill="#7D4E4E"/>
<circle cx="613.59" cy="240.25" r="3.20" fill="#7D4E4E"/>
<circle cx="626.12" cy="235.29" r="3.20" fill="#7D4E4E"/>
<circle cx="638.64" cy="229.89" r="3.20" fill="#7D4E4E"/>
<circle cx="651.17" cy="224.41" r="3.20" fill="#7D4E4E"/>
<circle cx="663.70" cy="219.97" r="3.20" fill="#7D4E4E"/>
</g>
<rect x="77.33" y="9.65" width="598.12" height="409.15" fill="none" stroke="#000" stroke-width="1.8"/>
<path d="M77.33 418.80v4M77.33 9.65v-4M95.45 418.80v4M95.45 9.65v-4M109.50 418.80v4M109.50 9.65v-4M120.98 418.80v4M120.98 9.65v-4M130.69 418.80v4M130.69 9.65v-4M139.10 418.80v4M139.10 9.65v-4M146.52 418.80v4M146.52 9.65v-4M153.15 418.80v8M153.15 9.65v-8M196.80 418.80v4M196.80 9.65v-4M222.33 418.80v4M222.33 9.65v-4M240.45 418.80v4M240.45 9.65v-4M254.50 418.80v4M254.50 9.65v-4M265.98 418.80v4M265.98 9.65v-4M275.69 418.80v4M275.69 9.65v-4M284.10 418.80v4M284.10 9.65v-4M291.52 418.80v4M291.52 9.65v-4M298.15 418.80v8M298.15 9.65v-8M341.80 418.80v4M341.80 9.65v-4M367.33 418.80v4M367.33 9.65v-4M385.45 418.80v4M385.45 9.65v-4M399.50 418.80v4M399.50 9.65v-4M410.98 418.80v4M410.98 9.65v-4M420.69 418.80v4M420.69 9.65v-4M429.10 418.80v4M429.10 9.65v-4M436.52 418.80v4M436.52 9.65v-4M443.15 418.80v8M443.15 9.65v-8M486.80 418.80v4M486.80 9.65v-4M512.33 418.80v4M512.33 9.65v-4M530.45 418.80v4M530.45 9.65v-4M544.50 418.80v4M544.50 9.65v-4M555.98 418.80v4M555.98 9.65v-4M565.69 418.80v4M565.69 9.65v-4M574.10 418.80v4M574.10 9.65v-4M581.52 418.80v4M581.52 9.65v-4M588.15 418.80v8M588.15 9.65v-8M631.80 418.80v4M631.80 9.65v-4M657.33 418.80v4M657.33 9.65v-4M675.45 418.80v4M675.45 9.65v-4M77.33 418.80h-8M675.45 418.80h8M77.33 360.35h-4M675.45 360.35h4M77.33 301.90h-8M675.45 301.90h8M77.33 243.45h-4M675.45 243.45h4M77.33 185.00h-8M675.45 185.00h8M77.33 126.55h-4M675.45 126.55h4M77.33 68.10h-8M675.45 68.10h8M77.33 9.65h-4M675.45 9.65h4" stroke="#000" stroke-width="1.8" fill="none"/>
<rect x="82.5" y="12.5" width="242" height="108" fill="#fff" stroke="#6a6a6a" stroke-width="1.1"/>
<line x1="85.4" y1="27.4" x2="133.6" y2="27.4" stroke="#515151" stroke-width="1.1"/>
<rect x="106.89" y="24.79" width="5.22" height="5.22" fill="#515151"/>
<line x1="85.4" y1="53.8" x2="133.6" y2="53.8" stroke="#1A6FDF" stroke-width="1.1"/>
<path d="M109.50 50.34L112.59 55.56L106.41 55.56Z" fill="#1A6FDF"/>
<line x1="85.4" y1="80.1" x2="133.6" y2="80.1" stroke="#B177DE" stroke-width="1.1"/>
<path d="M109.50 76.49L113.11 80.10L109.50 83.71L105.89 80.10Z" fill="#B177DE"/>
<line x1="85.4" y1="106.3" x2="133.6" y2="106.3" stroke="#00CBCC" stroke-width="1.1"/>
<path d="M113.05 106.30L107.73 103.21L107.73 109.39Z" fill="#00CBCC" stroke="#00CBCC" stroke-width="0.6" stroke-linejoin="round"/>
<line x1="182.0" y1="27.4" x2="230.4" y2="27.4" stroke="#F14040" stroke-width="1.1"/>
<path d="M206.20 23.70L207.09 26.17L209.72 26.26L207.65 27.87L208.38 30.40L206.20 28.92L204.02 30.40L204.75 27.87L202.68 26.26L205.31 26.17Z" fill="#F14040"/>
<line x1="182.0" y1="53.8" x2="230.4" y2="53.8" stroke="#37AD6B" stroke-width="1.1"/>
<path d="M206.20 57.26L209.29 52.04L203.11 52.04Z" fill="#37AD6B"/>
<line x1="182.0" y1="80.1" x2="230.4" y2="80.1" stroke="#CC9900" stroke-width="1.1"/>
<path d="M202.65 80.10L207.97 77.01L207.97 83.19Z" fill="#CC9900" stroke="#CC9900" stroke-width="0.6" stroke-linejoin="round"/>
<line x1="182.0" y1="106.3" x2="230.4" y2="106.3" stroke="#7D4E4E" stroke-width="1.1"/>
<circle cx="206.20" cy="106.30" r="3.04" fill="#7D4E4E"/>
<g style="font-family:'Liberation Serif',serif" fill="#000"><text x="154.15" y="449.2" font-size="22" text-anchor="middle">10</text>
<text x="299.15" y="449.2" font-size="22" text-anchor="middle">100</text>
<text x="444.15" y="449.2" font-size="22" text-anchor="middle">1000</text>
<text x="589.15" y="449.2" font-size="22" text-anchor="middle">10000</text>
<text x="59.1" y="419.40" font-size="22" text-anchor="middle" transform="rotate(-90 59.1 419.40)">0.00</text>
<text x="59.1" y="302.50" font-size="22" text-anchor="middle" transform="rotate(-90 59.1 302.50)">0.02</text>
<text x="59.1" y="185.60" font-size="22" text-anchor="middle" transform="rotate(-90 59.1 185.60)">0.04</text>
<text x="59.1" y="68.70" font-size="22" text-anchor="middle" transform="rotate(-90 59.1 68.70)">0.06</text>
<text x="370.25" y="478.9" font-size="23.4" text-anchor="middle">Pressure (psi)</text>
<text x="18.2" y="214" font-size="23.5" text-anchor="middle" transform="rotate(-90 18.2 214)">Cumulative Intrusion Volume (mL/g)</text>
<text x="139.0" y="35.0" font-size="21.2" text-anchor="start">S1</text>
<text x="139.0" y="61.4" font-size="21.2" text-anchor="start">S2</text>
<text x="139.0" y="87.7" font-size="21.2" text-anchor="start">S3</text>
<text x="139.0" y="113.9" font-size="21.2" text-anchor="start">S4</text>
<text x="236.0" y="35.0" font-size="21.2" text-anchor="start">S1 treated</text>
<text x="236.0" y="61.4" font-size="21.2" text-anchor="start">S2 treated</text>
<text x="236.0" y="87.7" font-size="21.2" text-anchor="start">S3 treated</text>
<text x="236.0" y="113.9" font-size="21.2" text-anchor="start">S4 treated</text></g></svg>
</body></html>
